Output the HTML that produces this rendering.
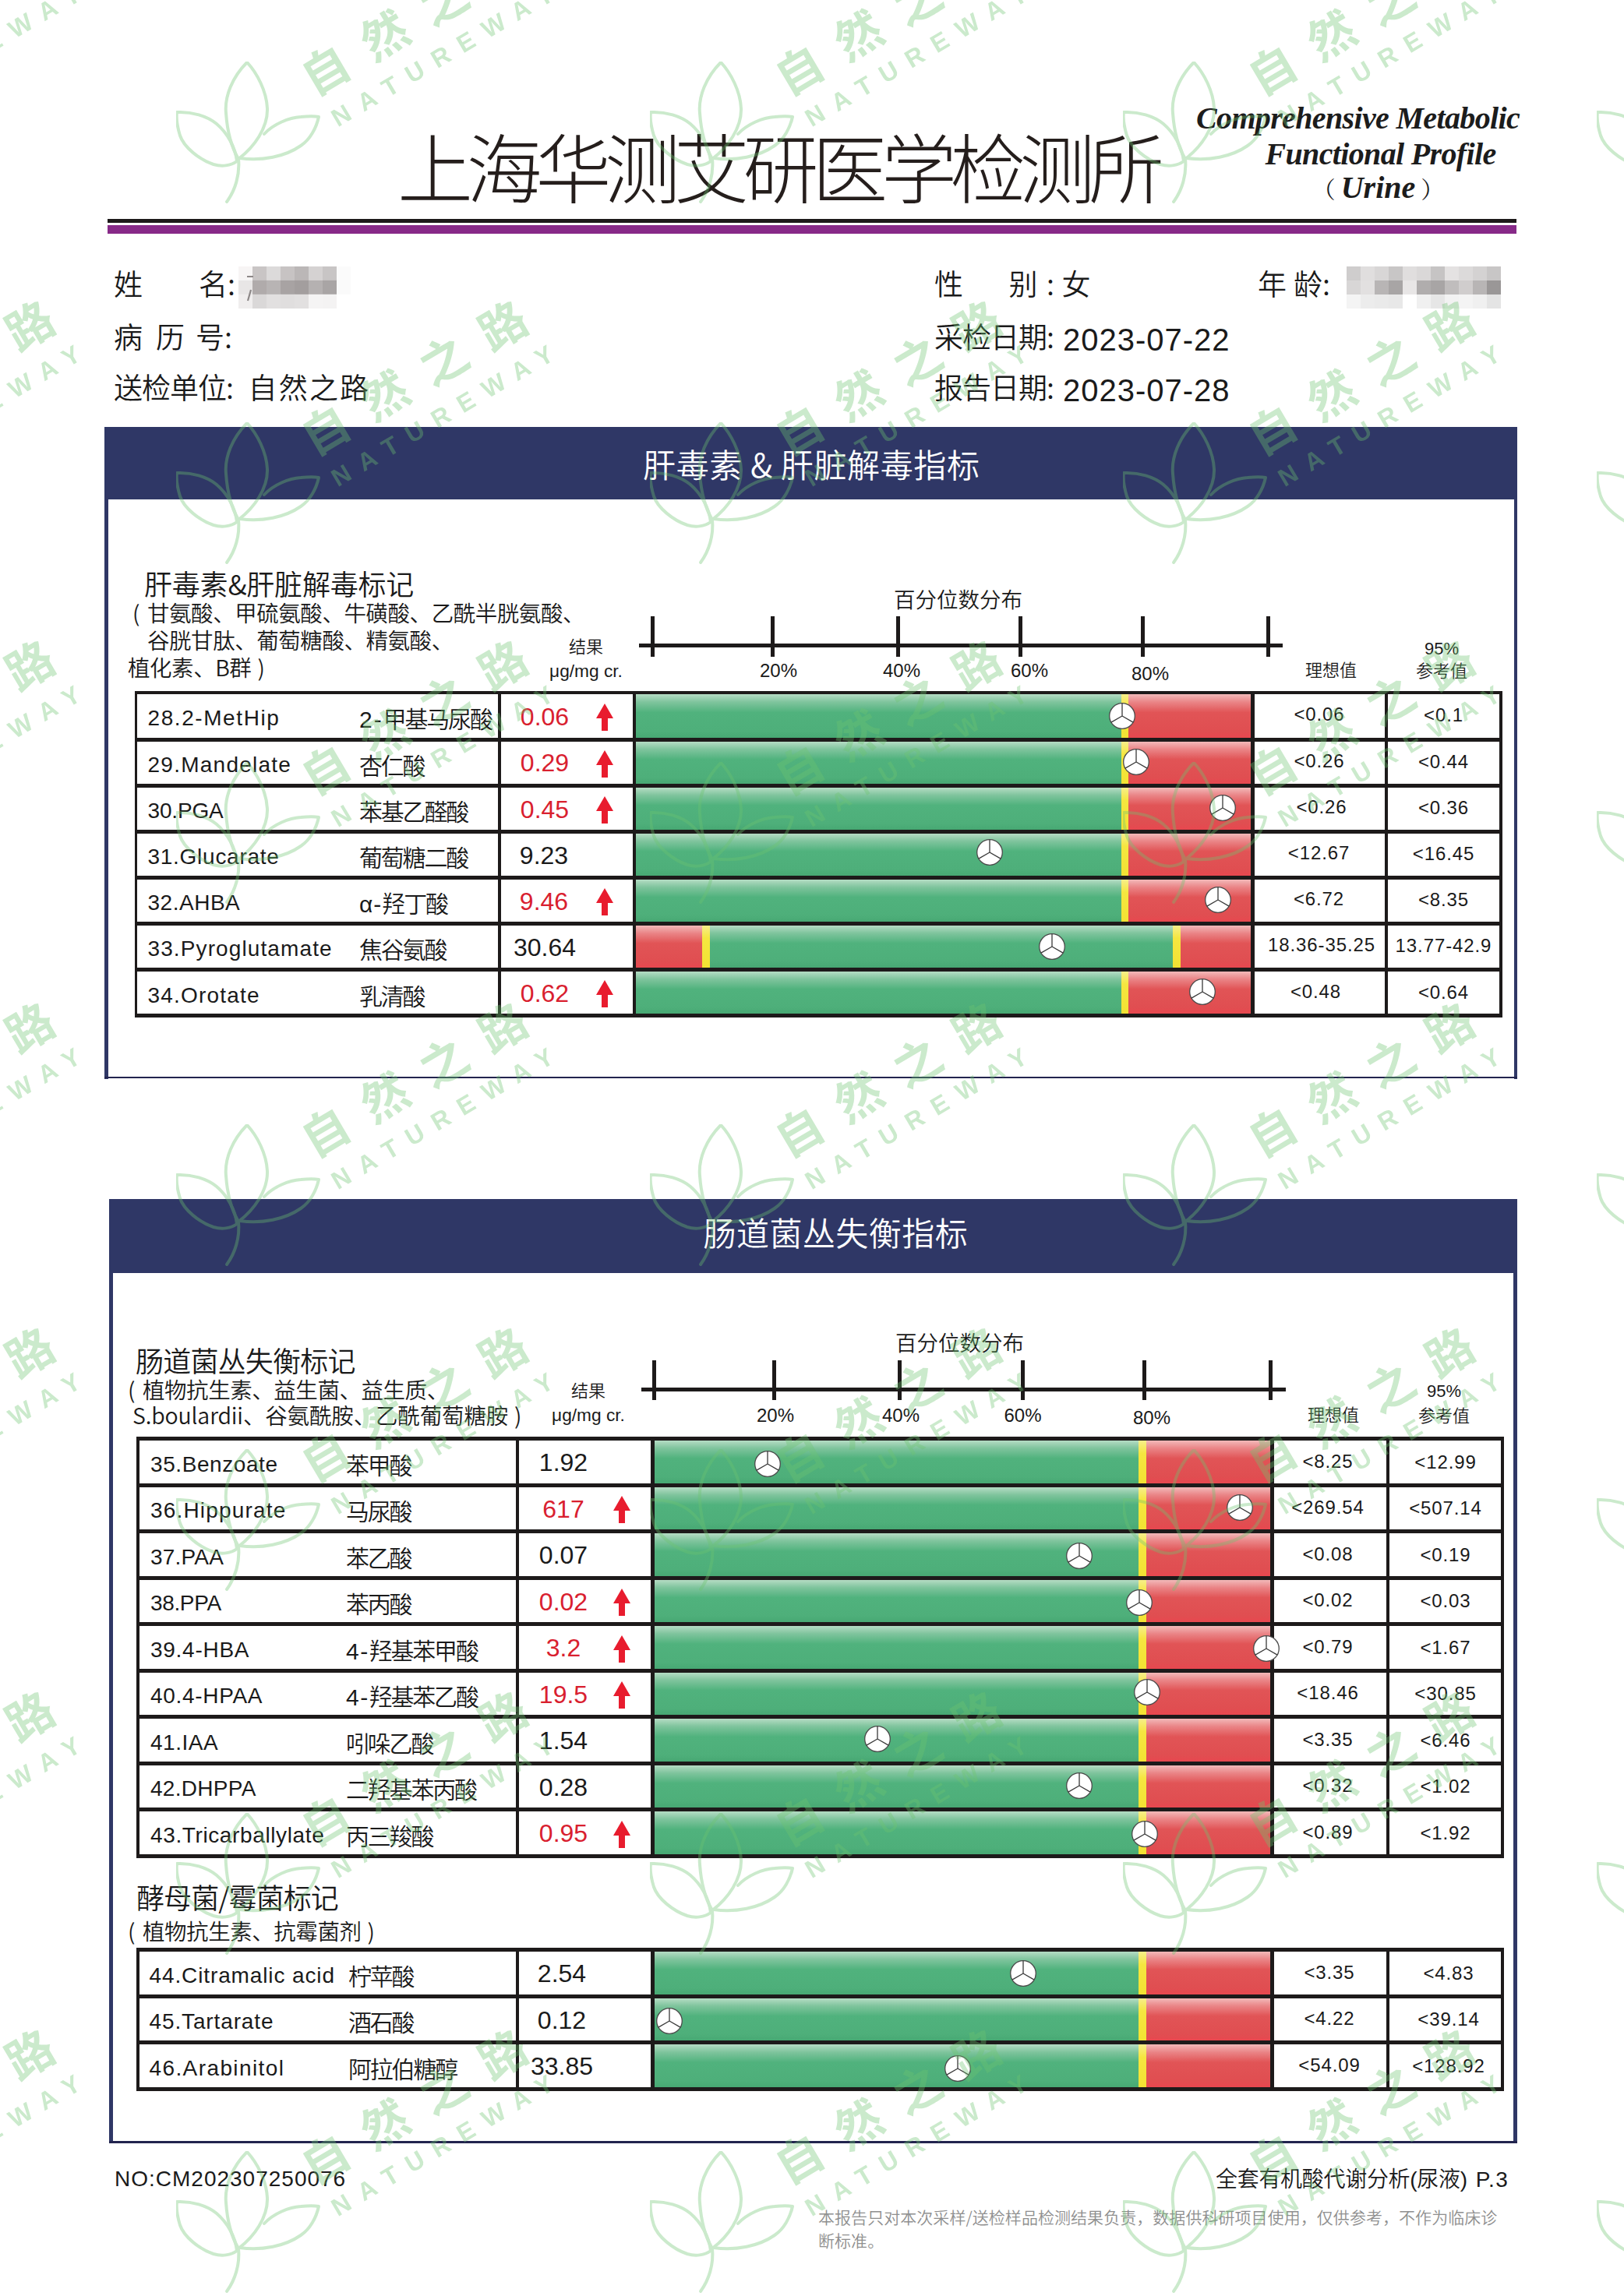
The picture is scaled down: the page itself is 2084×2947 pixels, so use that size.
<!DOCTYPE html>
<html lang="zh-CN"><head><meta charset="utf-8"><title>上海华测艾研医学检测所</title>
<style>
html,body{margin:0;padding:0;background:#fff;}
body{width:2084px;height:2947px;position:relative;overflow:hidden;font-family:"Noto Sans CJK SC","Liberation Sans",sans-serif;color:#1a1a1a;}
.a{position:absolute;white-space:nowrap;}
.t{position:absolute;white-space:nowrap;font-weight:350;}
.lat{font-family:"Liberation Sans","Noto Sans CJK SC",sans-serif;}
.bar{position:absolute;height:56px;}
.g{background:linear-gradient(to bottom,#b5dcc4 0%,#7fc49d 18%,#50b27d 42%,#4eaf7a 85%,#47a873 100%);}
.r{background:linear-gradient(to bottom,#f2b9b9 0%,#ea8587 18%,#e15456 42%,#e04e51 85%,#e8474f 100%);}
.y{background:linear-gradient(to bottom,#f7ee8a 0%,#f5e640 30%,#f2e233 100%);}
.cell{position:absolute;background:#fff;}
.tbl{position:absolute;background:#1d1a1a;}
.nm{position:absolute;white-space:nowrap;font-size:28px;line-height:40px;font-weight:350;}
.val{position:absolute;white-space:nowrap;font-family:'Liberation Sans',sans-serif;font-size:32px;line-height:40px;}
.red{color:#d9202f;}
.rv{position:absolute;white-space:nowrap;font-size:24px;line-height:34px;text-align:center;font-weight:350;letter-spacing:.9px;}
.wm{position:absolute;left:0;top:0;width:2084px;height:2947px;overflow:hidden;pointer-events:none;opacity:.36;}
.wm .u{position:absolute;width:520px;height:400px;}
.wm .c{position:absolute;white-space:nowrap;color:#6ec370;transform-origin:0 50%;transform:rotate(-30.5deg);}
</style></head><body>
<div class="t" style="left:510px;top:151.0px;font-size:97px;line-height:120px;color:#251e1c;letter-spacing:-8.3px;font-weight:300;">上海华测艾研医学检测所</div>
<div class="a" style="left:1535px;top:127.0px;font-size:40px;line-height:50px;font-family:'Liberation Serif',serif;font-style:italic;font-weight:700;color:#1c1c1c;width:413px;text-align:center;letter-spacing:-0.65px;">Comprehensive Metabolic</div>
<div class="a" style="left:1535px;top:173.0px;font-size:40px;line-height:50px;font-family:'Liberation Serif',serif;font-style:italic;font-weight:700;color:#1c1c1c;width:413px;text-align:center;left:1565px;letter-spacing:-0.65px;">Functional Profile</div>
<div class="a" style="left:1535px;top:216.0px;font-size:40px;line-height:50px;font-family:'Liberation Serif',serif;font-style:italic;font-weight:700;color:#1c1c1c;width:413px;text-align:center;left:1562px;"><span style="font-family:'Noto Serif CJK SC',serif;font-style:normal;font-weight:400;font-size:30px;margin-right:7px">（</span>Urine<span style="font-family:'Noto Serif CJK SC',serif;font-style:normal;font-weight:400;font-size:30px;margin-left:7px">）</span></div>
<div class="a" style="left:137.5px;top:281.1px;width:1808.5px;height:4.6px;background:#1d1a1a"></div>
<div class="a" style="left:137.5px;top:288.8px;width:1808.5px;height:11.7px;background:#872a88"></div>
<div class="t" style="left:146px;top:338.0px;font-size:37px;line-height:50px;">姓<span style="display:inline-block;width:72px"></span>名:</div>
<div class="t" style="left:146px;top:406.0px;font-size:37px;line-height:50px;">病<span style="display:inline-block;width:17px"></span>历<span style="display:inline-block;width:14px"></span>号:</div>
<div class="t" style="left:146px;top:471.0px;font-size:37px;line-height:50px;letter-spacing:-1px;">送检单位:</div>
<div class="t" style="left:318.5px;top:471.0px;font-size:37px;line-height:50px;letter-spacing:2.2px;">自然之路</div>
<div class="t" style="left:1199px;top:338.0px;font-size:37px;line-height:50px;">性<span style="display:inline-block;width:58.5px"></span>别<span style="display:inline-block;width:11.5px"></span>:<span style="display:inline-block;width:9.5px"></span>女</div>
<div class="t" style="left:1199px;top:406.0px;font-size:37px;line-height:50px;letter-spacing:-1px;">采检日期:</div>
<div class="t" style="left:1199px;top:471.0px;font-size:37px;line-height:50px;letter-spacing:-1px;">报告日期:</div>
<div class="t" style="left:1364px;top:411.0px;font-size:40px;line-height:50px;font-family:'Liberation Sans',sans-serif;font-weight:400;letter-spacing:1px;">2023-07-22</div>
<div class="t" style="left:1364px;top:476.0px;font-size:40px;line-height:50px;font-family:'Liberation Sans',sans-serif;font-weight:400;letter-spacing:1px;">2023-07-28</div>
<div class="t" style="left:1614px;top:338.0px;font-size:37px;line-height:50px;">年<span style="display:inline-block;width:9px"></span>龄:</div>
<svg class="a" style="left:306px;top:342px" width="144" height="53.699999999999996"><rect x="0" y="0.0" width="18.5" height="18.4" fill="#f7f5f5"/><rect x="18" y="0.0" width="18.5" height="18.4" fill="#c9c5c5"/><rect x="36" y="0.0" width="18.5" height="18.4" fill="#dcdada"/><rect x="54" y="0.0" width="18.5" height="18.4" fill="#c7c3c3"/><rect x="72" y="0.0" width="18.5" height="18.4" fill="#bbb7b7"/><rect x="90" y="0.0" width="18.5" height="18.4" fill="#d5d2d2"/><rect x="108" y="0.0" width="18.5" height="18.4" fill="#c8c5c5"/><rect x="126" y="0.0" width="18.5" height="18.4" fill="#fbfbfb"/><rect x="0" y="17.9" width="18.5" height="18.4" fill="#e8e6e6"/><rect x="18" y="17.9" width="18.5" height="18.4" fill="#b0abab"/><rect x="36" y="17.9" width="18.5" height="18.4" fill="#b8b4b4"/><rect x="54" y="17.9" width="18.5" height="18.4" fill="#a8a3a3"/><rect x="72" y="17.9" width="18.5" height="18.4" fill="#a39e9e"/><rect x="90" y="17.9" width="18.5" height="18.4" fill="#b5b1b1"/><rect x="108" y="17.9" width="18.5" height="18.4" fill="#a9a5a5"/><rect x="126" y="17.9" width="18.5" height="18.4" fill="#fafafa"/><rect x="0" y="35.8" width="18.5" height="18.4" fill="#f0eeee"/><rect x="18" y="35.8" width="18.5" height="18.4" fill="#dad8d8"/><rect x="36" y="35.8" width="18.5" height="18.4" fill="#e2e0e0"/><rect x="54" y="35.8" width="18.5" height="18.4" fill="#e0dede"/><rect x="72" y="35.8" width="18.5" height="18.4" fill="#e2e0e0"/><rect x="90" y="35.8" width="18.5" height="18.4" fill="#f5f4f4"/><rect x="108" y="35.8" width="18.5" height="18.4" fill="#f4f3f3"/><rect x="126" y="35.8" width="18.5" height="18.4" fill="#ffffff"/><path d="M11 13h8M16 30l-4 14" stroke="#8d8888" stroke-width="2.2" fill="none"/></svg>
<svg class="a" style="left:1728px;top:342px" width="198" height="54"><rect x="0" y="0" width="18.5" height="18.5" fill="#cfcdcd"/><rect x="18" y="0" width="18.5" height="18.5" fill="#e0dede"/><rect x="36" y="0" width="18.5" height="18.5" fill="#d8d6d6"/><rect x="54" y="0" width="18.5" height="18.5" fill="#c8c6c6"/><rect x="72" y="0" width="18.5" height="18.5" fill="#e0dede"/><rect x="90" y="0" width="18.5" height="18.5" fill="#dad8d8"/><rect x="108" y="0" width="18.5" height="18.5" fill="#c6c4c4"/><rect x="126" y="0" width="18.5" height="18.5" fill="#e4e2e2"/><rect x="144" y="0" width="18.5" height="18.5" fill="#dcdada"/><rect x="162" y="0" width="18.5" height="18.5" fill="#d4d2d2"/><rect x="180" y="0" width="18.5" height="18.5" fill="#c8c6c6"/><rect x="0" y="18" width="18.5" height="18.5" fill="#d8d6d6"/><rect x="18" y="18" width="18.5" height="18.5" fill="#e2e0e0"/><rect x="36" y="18" width="18.5" height="18.5" fill="#b8b5b5"/><rect x="54" y="18" width="18.5" height="18.5" fill="#a8a5a5"/><rect x="72" y="18" width="18.5" height="18.5" fill="#e8e6e6"/><rect x="90" y="18" width="18.5" height="18.5" fill="#b0adad"/><rect x="108" y="18" width="18.5" height="18.5" fill="#a8a5a5"/><rect x="126" y="18" width="18.5" height="18.5" fill="#c0bdbd"/><rect x="144" y="18" width="18.5" height="18.5" fill="#d0cdcd"/><rect x="162" y="18" width="18.5" height="18.5" fill="#b8b5b5"/><rect x="180" y="18" width="18.5" height="18.5" fill="#9a9797"/><rect x="0" y="36" width="18.5" height="18.5" fill="#f4f4f4"/><rect x="18" y="36" width="18.5" height="18.5" fill="#ececec"/><rect x="36" y="36" width="18.5" height="18.5" fill="#eaeaea"/><rect x="54" y="36" width="18.5" height="18.5" fill="#e8e8e8"/><rect x="72" y="36" width="18.5" height="18.5" fill="#ffffff"/><rect x="90" y="36" width="18.5" height="18.5" fill="#f0f0f0"/><rect x="108" y="36" width="18.5" height="18.5" fill="#e6e6e6"/><rect x="126" y="36" width="18.5" height="18.5" fill="#f2f2f2"/><rect x="144" y="36" width="18.5" height="18.5" fill="#f4f4f4"/><rect x="162" y="36" width="18.5" height="18.5" fill="#f0f0f0"/><rect x="180" y="36" width="18.5" height="18.5" fill="#e4e4e4"/></svg>
<div class="a" style="left:134px;top:548.3px;width:1812.7px;height:92.70000000000005px;background:#2f3766"></div>
<div class="a" style="left:134px;top:640px;width:4.5px;height:744.5px;background:#2f3766"></div>
<div class="a" style="left:1943.2px;top:640px;width:3.5px;height:744.5px;background:#2f3766"></div>
<div class="a" style="left:134px;top:1382.1px;width:1812.7px;height:2.4px;background:#22244e"></div>
<div class="t" style="left:825px;top:567.3px;font-size:42px;line-height:56px;color:#fff;letter-spacing:0.65px;">肝毒素 &amp; 肝脏解毒指标</div>
<div class="a" style="left:140px;top:1539px;width:1806.7px;height:95px;background:#2f3766"></div>
<div class="a" style="left:140px;top:1633px;width:5px;height:1118.4px;background:#2f3766"></div>
<div class="a" style="left:1941.9px;top:1633px;width:4.8px;height:1118.4px;background:#2f3766"></div>
<div class="a" style="left:140px;top:2747.7000000000003px;width:1806.7px;height:3.7px;background:#22244e"></div>
<div class="t" style="left:902.5px;top:1552.5px;font-size:42px;line-height:56px;color:#fff;letter-spacing:0.45px;">肠道菌丛失衡指标</div>
<div class="a" style="left:820px;top:826.1999999999999px;width:825.7px;height:5.2px;background:#1d1a1a"></div>
<div class="a" style="left:835.2px;top:791.3px;width:5px;height:51.30000000000007px;background:#1d1a1a"></div>
<div class="a" style="left:989.1px;top:791.3px;width:5px;height:51.30000000000007px;background:#1d1a1a"></div>
<div class="a" style="left:1149.7px;top:791.3px;width:5px;height:51.30000000000007px;background:#1d1a1a"></div>
<div class="a" style="left:1306.5px;top:791.3px;width:5px;height:51.30000000000007px;background:#1d1a1a"></div>
<div class="a" style="left:1464.0px;top:791.3px;width:5px;height:51.30000000000007px;background:#1d1a1a"></div>
<div class="a" style="left:1625.2px;top:791.3px;width:5px;height:51.30000000000007px;background:#1d1a1a"></div>
<div class="t lat" style="left:959px;top:845.0px;font-size:24px;line-height:32px;width:80px;text-align:center;">20%</div>
<div class="t lat" style="left:1117px;top:845.0px;font-size:24px;line-height:32px;width:80px;text-align:center;">40%</div>
<div class="t lat" style="left:1281px;top:845.0px;font-size:24px;line-height:32px;width:80px;text-align:center;">60%</div>
<div class="t lat" style="left:1436px;top:849.0px;font-size:24px;line-height:32px;width:80px;text-align:center;">80%</div>
<div class="t" style="left:1147px;top:748.5px;font-size:27.5px;line-height:38px;">百分位数分布</div>
<div class="a" style="left:823px;top:1781.3000000000002px;width:826.5px;height:5.2px;background:#1d1a1a"></div>
<div class="a" style="left:837.3px;top:1746.3px;width:5px;height:50.700000000000045px;background:#1d1a1a"></div>
<div class="a" style="left:990.7px;top:1746.3px;width:5px;height:50.700000000000045px;background:#1d1a1a"></div>
<div class="a" style="left:1152.4px;top:1746.3px;width:5px;height:50.700000000000045px;background:#1d1a1a"></div>
<div class="a" style="left:1310.0px;top:1746.3px;width:5px;height:50.700000000000045px;background:#1d1a1a"></div>
<div class="a" style="left:1465.9px;top:1746.3px;width:5px;height:50.700000000000045px;background:#1d1a1a"></div>
<div class="a" style="left:1627.7px;top:1746.3px;width:5px;height:50.700000000000045px;background:#1d1a1a"></div>
<div class="t lat" style="left:955px;top:1801.0px;font-size:24px;line-height:32px;width:80px;text-align:center;">20%</div>
<div class="t lat" style="left:1116px;top:1801.0px;font-size:24px;line-height:32px;width:80px;text-align:center;">40%</div>
<div class="t lat" style="left:1272.5px;top:1801.0px;font-size:24px;line-height:32px;width:80px;text-align:center;">60%</div>
<div class="t lat" style="left:1438px;top:1804.0px;font-size:24px;line-height:32px;width:80px;text-align:center;">80%</div>
<div class="t" style="left:1149px;top:1702.5px;font-size:27.5px;line-height:38px;">百分位数分布</div>
<div class="t" style="left:652px;top:812.5px;font-size:22px;line-height:30px;width:200px;text-align:center;">结果</div>
<div class="a" style="left:652px;top:846.0px;font-size:22.7px;line-height:30px;width:200px;text-align:center;font-family:'Liberation Sans',sans-serif;">μg/mg cr.</div>
<div class="t" style="left:1608px;top:842.5px;font-size:22px;line-height:30px;width:200px;text-align:center;">理想值</div>
<div class="t lat" style="left:1750px;top:818.0px;font-size:22px;line-height:30px;width:200px;text-align:center;">95%</div>
<div class="t" style="left:1750px;top:843.5px;font-size:22px;line-height:30px;width:200px;text-align:center;">参考值</div>
<div class="t" style="left:655px;top:1767.5px;font-size:22px;line-height:30px;width:200px;text-align:center;">结果</div>
<div class="a" style="left:655px;top:1801.0px;font-size:22.7px;line-height:30px;width:200px;text-align:center;font-family:'Liberation Sans',sans-serif;">μg/mg cr.</div>
<div class="t" style="left:1611px;top:1798.5px;font-size:22px;line-height:30px;width:200px;text-align:center;">理想值</div>
<div class="t lat" style="left:1753px;top:1771.0px;font-size:22px;line-height:30px;width:200px;text-align:center;">95%</div>
<div class="t" style="left:1753px;top:1799.5px;font-size:22px;line-height:30px;width:200px;text-align:center;">参考值</div>
<div class="t" style="left:185px;top:725.0px;font-size:36px;line-height:46px;letter-spacing:-0.2px">肝毒素&amp;肝脏解毒标记</div>
<div class="t" style="left:170px;top:766.5px;font-size:28.5px;line-height:38px;letter-spacing:-0.45px;">(<span style="display:inline-block;width:10px"></span>甘氨酸、甲硫氨酸、牛磺酸、乙酰半胱氨酸、</div>
<div class="t" style="left:189px;top:801.5px;font-size:28.5px;line-height:38px;letter-spacing:-0.45px;">谷胱甘肽、葡萄糖酸、精氨酸、</div>
<div class="t" style="left:164px;top:836.5px;font-size:28.5px;line-height:38px;letter-spacing:-0.45px;">植化素、B群<span style="display:inline-block;width:8px"></span>)</div>
<div class="t" style="left:174px;top:1722.0px;font-size:36px;line-height:46px;letter-spacing:-0.8px">肠道菌丛失衡标记</div>
<div class="t" style="left:164px;top:1763.5px;font-size:28.5px;line-height:38px;letter-spacing:-0.45px;">(<span style="display:inline-block;width:10px"></span>植物抗生素、益生菌、益生质、</div>
<div class="t" style="left:170px;top:1796.5px;font-size:28.5px;line-height:38px;letter-spacing:-0.15px;">S.boulardii、谷氨酰胺、乙酰葡萄糖胺<span style="display:inline-block;width:8px"></span>)</div>
<div class="t" style="left:175px;top:2411.0px;font-size:36px;line-height:46px;letter-spacing:-0.9px">酵母菌/霉菌标记</div>
<div class="t" style="left:164px;top:2458.5px;font-size:28.5px;line-height:38px;letter-spacing:-0.45px;">(<span style="display:inline-block;width:10px"></span>植物抗生素、抗霉菌剂<span style="display:inline-block;width:8px"></span>)</div>
<div class="tbl" style="left:173px;top:887.3px;width:1755px;height:418.7px"></div>
<div class="cell" style="left:176px;top:891.0px;width:463px;height:55.5px"></div>
<div class="cell" style="left:642.8px;top:891.0px;width:169.20000000000005px;height:55.5px"></div>
<div class="cell" style="left:1610px;top:891.0px;width:167px;height:55.5px"></div>
<div class="cell" style="left:1781px;top:891.0px;width:143px;height:55.5px"></div>
<div class="bar g" style="left:816px;top:891.0px;width:623px;height:55.5px"></div>
<div class="bar y" style="left:1439px;top:891.0px;width:9px;height:55.5px"></div>
<div class="bar r" style="left:1448px;top:891.0px;width:157px;height:55.5px"></div>
<div class="nm lat" style="left:189.5px;top:902.1px;letter-spacing:1.58px">28.2-MetHip</div>
<div class="nm lat" style="left:461px;top:904.1px;font-size:30px;letter-spacing:-2.2px"><span style="letter-spacing:2px">2-</span>甲基马尿酸</div>
<div class="val red" style="left:639px;width:120px;text-align:center;top:899.6px">0.06</div>
<svg class="a" style="left:763.9px;top:902.8px" width="24" height="36" viewBox="0 0 24 36"><path d="M12 0L23 19H16V35H8V19H1Z" fill="#e81c2e"/></svg>
<div class="rv lat" style="left:1613px;width:160px;top:900.1px">&lt;0.06</div>
<div class="rv lat" style="left:1772.5px;width:160px;top:901.1px">&lt;0.1</div>
<div class="cell" style="left:176px;top:951.5px;width:463px;height:54.0px"></div>
<div class="cell" style="left:642.8px;top:951.5px;width:169.20000000000005px;height:54.0px"></div>
<div class="cell" style="left:1610px;top:951.5px;width:167px;height:54.0px"></div>
<div class="cell" style="left:1781px;top:951.5px;width:143px;height:54.0px"></div>
<div class="bar g" style="left:816px;top:951.5px;width:623px;height:54.0px"></div>
<div class="bar y" style="left:1439px;top:951.5px;width:9px;height:54.0px"></div>
<div class="bar r" style="left:1448px;top:951.5px;width:157px;height:54.0px"></div>
<div class="nm lat" style="left:189.5px;top:961.9px;letter-spacing:1.25px">29.Mandelate</div>
<div class="nm lat" style="left:461px;top:963.9px;font-size:30px;letter-spacing:-2.2px">杏仁酸</div>
<div class="val red" style="left:639px;width:120px;text-align:center;top:959.4px">0.29</div>
<svg class="a" style="left:763.9px;top:962.6px" width="24" height="36" viewBox="0 0 24 36"><path d="M12 0L23 19H16V35H8V19H1Z" fill="#e81c2e"/></svg>
<div class="rv lat" style="left:1613px;width:160px;top:959.9px">&lt;0.26</div>
<div class="rv lat" style="left:1772.5px;width:160px;top:960.9px">&lt;0.44</div>
<div class="cell" style="left:176px;top:1010.5px;width:463px;height:54.0px"></div>
<div class="cell" style="left:642.8px;top:1010.5px;width:169.20000000000005px;height:54.0px"></div>
<div class="cell" style="left:1610px;top:1010.5px;width:167px;height:54.0px"></div>
<div class="cell" style="left:1781px;top:1010.5px;width:143px;height:54.0px"></div>
<div class="bar g" style="left:816px;top:1010.5px;width:623px;height:54.0px"></div>
<div class="bar y" style="left:1439px;top:1010.5px;width:9px;height:54.0px"></div>
<div class="bar r" style="left:1448px;top:1010.5px;width:157px;height:54.0px"></div>
<div class="nm lat" style="left:189.5px;top:1021.0px;letter-spacing:-0.18px">30.PGA</div>
<div class="nm lat" style="left:461px;top:1023.0px;font-size:30px;letter-spacing:-2.2px">苯基乙醛酸</div>
<div class="val red" style="left:639px;width:120px;text-align:center;top:1018.5px">0.45</div>
<svg class="a" style="left:763.9px;top:1021.8px" width="24" height="36" viewBox="0 0 24 36"><path d="M12 0L23 19H16V35H8V19H1Z" fill="#e81c2e"/></svg>
<div class="rv lat" style="left:1616px;width:160px;top:1019.0px">&lt;0.26</div>
<div class="rv lat" style="left:1772.5px;width:160px;top:1020.0px">&lt;0.36</div>
<div class="cell" style="left:176px;top:1069.5px;width:463px;height:54.0px"></div>
<div class="cell" style="left:642.8px;top:1069.5px;width:169.20000000000005px;height:54.0px"></div>
<div class="cell" style="left:1610px;top:1069.5px;width:167px;height:54.0px"></div>
<div class="cell" style="left:1781px;top:1069.5px;width:143px;height:54.0px"></div>
<div class="bar g" style="left:816px;top:1069.5px;width:623px;height:54.0px"></div>
<div class="bar y" style="left:1439px;top:1069.5px;width:9px;height:54.0px"></div>
<div class="bar r" style="left:1448px;top:1069.5px;width:157px;height:54.0px"></div>
<div class="nm lat" style="left:189.5px;top:1080.2px;letter-spacing:0.73px">31.Glucarate</div>
<div class="nm lat" style="left:461px;top:1082.2px;font-size:30px;letter-spacing:-2.2px">葡萄糖二酸</div>
<div class="val" style="left:638px;width:120px;text-align:center;top:1077.7px">9.23</div>
<div class="rv lat" style="left:1612.5px;width:160px;top:1078.2px">&lt;12.67</div>
<div class="rv lat" style="left:1772.5px;width:160px;top:1079.2px">&lt;16.45</div>
<div class="cell" style="left:176px;top:1128.5px;width:463px;height:54.0px"></div>
<div class="cell" style="left:642.8px;top:1128.5px;width:169.20000000000005px;height:54.0px"></div>
<div class="cell" style="left:1610px;top:1128.5px;width:167px;height:54.0px"></div>
<div class="cell" style="left:1781px;top:1128.5px;width:143px;height:54.0px"></div>
<div class="bar g" style="left:816px;top:1128.5px;width:623px;height:54.0px"></div>
<div class="bar y" style="left:1439px;top:1128.5px;width:9px;height:54.0px"></div>
<div class="bar r" style="left:1448px;top:1128.5px;width:157px;height:54.0px"></div>
<div class="nm lat" style="left:189.5px;top:1139.3px;letter-spacing:0.52px">32.AHBA</div>
<div class="nm lat" style="left:461px;top:1141.3px;font-size:30px;letter-spacing:-2.2px"><span style="letter-spacing:1px">α-</span>羟丁酸</div>
<div class="val red" style="left:638px;width:120px;text-align:center;top:1136.8px">9.46</div>
<svg class="a" style="left:763.9px;top:1140.0px" width="24" height="36" viewBox="0 0 24 36"><path d="M12 0L23 19H16V35H8V19H1Z" fill="#e81c2e"/></svg>
<div class="rv lat" style="left:1612.5px;width:160px;top:1137.3px">&lt;6.72</div>
<div class="rv lat" style="left:1772.5px;width:160px;top:1138.3px">&lt;8.35</div>
<div class="cell" style="left:176px;top:1188.0px;width:463px;height:54.0px"></div>
<div class="cell" style="left:642.8px;top:1188.0px;width:169.20000000000005px;height:54.0px"></div>
<div class="cell" style="left:1610px;top:1188.0px;width:167px;height:54.0px"></div>
<div class="cell" style="left:1781px;top:1188.0px;width:143px;height:54.0px"></div>
<div class="bar r" style="left:816px;top:1188.0px;width:85px;height:54.0px"></div>
<div class="bar y" style="left:901px;top:1188.0px;width:10px;height:54.0px"></div>
<div class="bar g" style="left:911px;top:1188.0px;width:594px;height:54.0px"></div>
<div class="bar y" style="left:1505px;top:1188.0px;width:10px;height:54.0px"></div>
<div class="bar r" style="left:1515px;top:1188.0px;width:90px;height:54.0px"></div>
<div class="nm lat" style="left:189.5px;top:1198.4px;letter-spacing:1.11px">33.Pyroglutamate</div>
<div class="nm lat" style="left:461px;top:1200.4px;font-size:30px;letter-spacing:-2.2px">焦谷氨酸</div>
<div class="val" style="left:639px;width:120px;text-align:center;top:1195.9px">30.64</div>
<div class="rv lat" style="left:1616px;width:160px;top:1196.4px">18.36-35.25</div>
<div class="rv lat" style="left:1772.5px;width:160px;top:1197.4px">13.77-42.9</div>
<div class="cell" style="left:176px;top:1247.0px;width:463px;height:54.0px"></div>
<div class="cell" style="left:642.8px;top:1247.0px;width:169.20000000000005px;height:54.0px"></div>
<div class="cell" style="left:1610px;top:1247.0px;width:167px;height:54.0px"></div>
<div class="cell" style="left:1781px;top:1247.0px;width:143px;height:54.0px"></div>
<div class="bar g" style="left:816px;top:1247.0px;width:623px;height:54.0px"></div>
<div class="bar y" style="left:1439px;top:1247.0px;width:9px;height:54.0px"></div>
<div class="bar r" style="left:1448px;top:1247.0px;width:157px;height:54.0px"></div>
<div class="nm lat" style="left:189.5px;top:1257.5px;letter-spacing:1.2px">34.Orotate</div>
<div class="nm lat" style="left:461px;top:1259.5px;font-size:30px;letter-spacing:-2.2px">乳清酸</div>
<div class="val red" style="left:639px;width:120px;text-align:center;top:1255.0px">0.62</div>
<svg class="a" style="left:763.9px;top:1258.2px" width="24" height="36" viewBox="0 0 24 36"><path d="M12 0L23 19H16V35H8V19H1Z" fill="#e81c2e"/></svg>
<div class="rv lat" style="left:1608.5px;width:160px;top:1255.5px">&lt;0.48</div>
<div class="rv lat" style="left:1772.5px;width:160px;top:1256.5px">&lt;0.64</div>
<svg class="a" style="left:1421.5px;top:900.5px" width="36" height="36" viewBox="-18 -18 36 36"><circle r="16.3" fill="#fff" stroke="#4a4a4a" stroke-width="1.3"/><path d="M0 0V-16.3M0 0L-14.1 8.15M0 0L14.1 8.15" stroke="#3a3a3a" stroke-width="1.3" fill="none"/></svg>
<svg class="a" style="left:1440px;top:960px" width="36" height="36" viewBox="-18 -18 36 36"><circle r="16.3" fill="#fff" stroke="#4a4a4a" stroke-width="1.3"/><path d="M0 0V-16.3M0 0L-14.1 8.15M0 0L14.1 8.15" stroke="#3a3a3a" stroke-width="1.3" fill="none"/></svg>
<svg class="a" style="left:1551px;top:1019px" width="36" height="36" viewBox="-18 -18 36 36"><circle r="16.3" fill="#fff" stroke="#4a4a4a" stroke-width="1.3"/><path d="M0 0V-16.3M0 0L-14.1 8.15M0 0L14.1 8.15" stroke="#3a3a3a" stroke-width="1.3" fill="none"/></svg>
<svg class="a" style="left:1252px;top:1076px" width="36" height="36" viewBox="-18 -18 36 36"><circle r="16.3" fill="#fff" stroke="#4a4a4a" stroke-width="1.3"/><path d="M0 0V-16.3M0 0L-14.1 8.15M0 0L14.1 8.15" stroke="#3a3a3a" stroke-width="1.3" fill="none"/></svg>
<svg class="a" style="left:1545px;top:1137px" width="36" height="36" viewBox="-18 -18 36 36"><circle r="16.3" fill="#fff" stroke="#4a4a4a" stroke-width="1.3"/><path d="M0 0V-16.3M0 0L-14.1 8.15M0 0L14.1 8.15" stroke="#3a3a3a" stroke-width="1.3" fill="none"/></svg>
<svg class="a" style="left:1332px;top:1197px" width="36" height="36" viewBox="-18 -18 36 36"><circle r="16.3" fill="#fff" stroke="#4a4a4a" stroke-width="1.3"/><path d="M0 0V-16.3M0 0L-14.1 8.15M0 0L14.1 8.15" stroke="#3a3a3a" stroke-width="1.3" fill="none"/></svg>
<svg class="a" style="left:1525px;top:1255px" width="36" height="36" viewBox="-18 -18 36 36"><circle r="16.3" fill="#fff" stroke="#4a4a4a" stroke-width="1.3"/><path d="M0 0V-16.3M0 0L-14.1 8.15M0 0L14.1 8.15" stroke="#3a3a3a" stroke-width="1.3" fill="none"/></svg>
<div class="tbl" style="left:175px;top:1844.2px;width:1755px;height:540.4px"></div>
<div class="cell" style="left:178.5px;top:1849.0px;width:483.5px;height:54.5px"></div>
<div class="cell" style="left:666px;top:1849.0px;width:169px;height:54.5px"></div>
<div class="cell" style="left:1635px;top:1849.0px;width:144px;height:54.5px"></div>
<div class="cell" style="left:1783px;top:1849.0px;width:143px;height:54.5px"></div>
<div class="bar g" style="left:839.5px;top:1849.0px;width:621.5px;height:54.5px"></div>
<div class="bar y" style="left:1461px;top:1849.0px;width:10px;height:54.5px"></div>
<div class="bar r" style="left:1471px;top:1849.0px;width:159px;height:54.5px"></div>
<div class="nm lat" style="left:193px;top:1859.9px;letter-spacing:0.58px">35.Benzoate</div>
<div class="nm lat" style="left:444px;top:1861.9px;font-size:30px;letter-spacing:-2.2px">苯甲酸</div>
<div class="val" style="left:663px;width:120px;text-align:center;top:1857.4px">1.92</div>
<div class="rv lat" style="left:1624px;width:160px;top:1858.9px">&lt;8.25</div>
<div class="rv lat" style="left:1775px;width:160px;top:1859.9px">&lt;12.99</div>
<div class="cell" style="left:178.5px;top:1908.5px;width:483.5px;height:54.5px"></div>
<div class="cell" style="left:666px;top:1908.5px;width:169px;height:54.5px"></div>
<div class="cell" style="left:1635px;top:1908.5px;width:144px;height:54.5px"></div>
<div class="cell" style="left:1783px;top:1908.5px;width:143px;height:54.5px"></div>
<div class="bar g" style="left:839.5px;top:1908.5px;width:621.5px;height:54.5px"></div>
<div class="bar y" style="left:1461px;top:1908.5px;width:10px;height:54.5px"></div>
<div class="bar r" style="left:1471px;top:1908.5px;width:159px;height:54.5px"></div>
<div class="nm lat" style="left:193px;top:1919.4px;letter-spacing:1.17px">36.Hippurate</div>
<div class="nm lat" style="left:444px;top:1921.4px;font-size:30px;letter-spacing:-2.2px">马尿酸</div>
<div class="val red" style="left:663px;width:120px;text-align:center;top:1916.9px">617</div>
<svg class="a" style="left:785.9px;top:1920.1px" width="24" height="36" viewBox="0 0 24 36"><path d="M12 0L23 19H16V35H8V19H1Z" fill="#e81c2e"/></svg>
<div class="rv lat" style="left:1624px;width:160px;top:1918.4px">&lt;269.54</div>
<div class="rv lat" style="left:1775px;width:160px;top:1919.4px">&lt;507.14</div>
<div class="cell" style="left:178.5px;top:1968.0px;width:483.5px;height:54.5px"></div>
<div class="cell" style="left:666px;top:1968.0px;width:169px;height:54.5px"></div>
<div class="cell" style="left:1635px;top:1968.0px;width:144px;height:54.5px"></div>
<div class="cell" style="left:1783px;top:1968.0px;width:143px;height:54.5px"></div>
<div class="bar g" style="left:839.5px;top:1968.0px;width:621.5px;height:54.5px"></div>
<div class="bar y" style="left:1461px;top:1968.0px;width:10px;height:54.5px"></div>
<div class="bar r" style="left:1471px;top:1968.0px;width:159px;height:54.5px"></div>
<div class="nm lat" style="left:193px;top:1978.9px;letter-spacing:0.2px">37.PAA</div>
<div class="nm lat" style="left:444px;top:1980.9px;font-size:30px;letter-spacing:-2.2px">苯乙酸</div>
<div class="val" style="left:663px;width:120px;text-align:center;top:1976.4px">0.07</div>
<div class="rv lat" style="left:1624px;width:160px;top:1977.9px">&lt;0.08</div>
<div class="rv lat" style="left:1775px;width:160px;top:1978.9px">&lt;0.19</div>
<div class="cell" style="left:178.5px;top:2027.5px;width:483.5px;height:54.5px"></div>
<div class="cell" style="left:666px;top:2027.5px;width:169px;height:54.5px"></div>
<div class="cell" style="left:1635px;top:2027.5px;width:144px;height:54.5px"></div>
<div class="cell" style="left:1783px;top:2027.5px;width:143px;height:54.5px"></div>
<div class="bar g" style="left:839.5px;top:2027.5px;width:621.5px;height:54.5px"></div>
<div class="bar y" style="left:1461px;top:2027.5px;width:10px;height:54.5px"></div>
<div class="bar r" style="left:1471px;top:2027.5px;width:159px;height:54.5px"></div>
<div class="nm lat" style="left:193px;top:2038.4px;letter-spacing:-0.36px">38.PPA</div>
<div class="nm lat" style="left:444px;top:2040.4px;font-size:30px;letter-spacing:-2.2px">苯丙酸</div>
<div class="val red" style="left:663px;width:120px;text-align:center;top:2035.9px">0.02</div>
<svg class="a" style="left:785.9px;top:2039.1px" width="24" height="36" viewBox="0 0 24 36"><path d="M12 0L23 19H16V35H8V19H1Z" fill="#e81c2e"/></svg>
<div class="rv lat" style="left:1624px;width:160px;top:2037.4px">&lt;0.02</div>
<div class="rv lat" style="left:1775px;width:160px;top:2038.4px">&lt;0.03</div>
<div class="cell" style="left:178.5px;top:2087.0px;width:483.5px;height:54.5px"></div>
<div class="cell" style="left:666px;top:2087.0px;width:169px;height:54.5px"></div>
<div class="cell" style="left:1635px;top:2087.0px;width:144px;height:54.5px"></div>
<div class="cell" style="left:1783px;top:2087.0px;width:143px;height:54.5px"></div>
<div class="bar g" style="left:839.5px;top:2087.0px;width:621.5px;height:54.5px"></div>
<div class="bar y" style="left:1461px;top:2087.0px;width:10px;height:54.5px"></div>
<div class="bar r" style="left:1471px;top:2087.0px;width:159px;height:54.5px"></div>
<div class="nm lat" style="left:193px;top:2097.9px;letter-spacing:0.73px">39.4-HBA</div>
<div class="nm lat" style="left:444px;top:2099.9px;font-size:30px;letter-spacing:-2.2px"><span style="letter-spacing:1.5px">4-</span>羟基苯甲酸</div>
<div class="val red" style="left:663px;width:120px;text-align:center;top:2095.4px">3.2</div>
<svg class="a" style="left:785.9px;top:2098.6px" width="24" height="36" viewBox="0 0 24 36"><path d="M12 0L23 19H16V35H8V19H1Z" fill="#e81c2e"/></svg>
<div class="rv lat" style="left:1624px;width:160px;top:2096.9px">&lt;0.79</div>
<div class="rv lat" style="left:1775px;width:160px;top:2097.9px">&lt;1.67</div>
<div class="cell" style="left:178.5px;top:2146.5px;width:483.5px;height:54.5px"></div>
<div class="cell" style="left:666px;top:2146.5px;width:169px;height:54.5px"></div>
<div class="cell" style="left:1635px;top:2146.5px;width:144px;height:54.5px"></div>
<div class="cell" style="left:1783px;top:2146.5px;width:143px;height:54.5px"></div>
<div class="bar g" style="left:839.5px;top:2146.5px;width:621.5px;height:54.5px"></div>
<div class="bar y" style="left:1461px;top:2146.5px;width:10px;height:54.5px"></div>
<div class="bar r" style="left:1471px;top:2146.5px;width:159px;height:54.5px"></div>
<div class="nm lat" style="left:193px;top:2157.4px;letter-spacing:0.69px">40.4-HPAA</div>
<div class="nm lat" style="left:444px;top:2159.4px;font-size:30px;letter-spacing:-2.2px"><span style="letter-spacing:1.5px">4-</span>羟基苯乙酸</div>
<div class="val red" style="left:663px;width:120px;text-align:center;top:2154.9px">19.5</div>
<svg class="a" style="left:785.9px;top:2158.1px" width="24" height="36" viewBox="0 0 24 36"><path d="M12 0L23 19H16V35H8V19H1Z" fill="#e81c2e"/></svg>
<div class="rv lat" style="left:1624px;width:160px;top:2156.4px">&lt;18.46</div>
<div class="rv lat" style="left:1775px;width:160px;top:2157.4px">&lt;30.85</div>
<div class="cell" style="left:178.5px;top:2206.0px;width:483.5px;height:54.5px"></div>
<div class="cell" style="left:666px;top:2206.0px;width:169px;height:54.5px"></div>
<div class="cell" style="left:1635px;top:2206.0px;width:144px;height:54.5px"></div>
<div class="cell" style="left:1783px;top:2206.0px;width:143px;height:54.5px"></div>
<div class="bar g" style="left:839.5px;top:2206.0px;width:621.5px;height:54.5px"></div>
<div class="bar y" style="left:1461px;top:2206.0px;width:10px;height:54.5px"></div>
<div class="bar r" style="left:1471px;top:2206.0px;width:159px;height:54.5px"></div>
<div class="nm lat" style="left:193px;top:2216.9px;letter-spacing:0.5px">41.IAA</div>
<div class="nm lat" style="left:444px;top:2218.9px;font-size:30px;letter-spacing:-2.2px">吲哚乙酸</div>
<div class="val" style="left:663px;width:120px;text-align:center;top:2214.4px">1.54</div>
<div class="rv lat" style="left:1624px;width:160px;top:2215.9px">&lt;3.35</div>
<div class="rv lat" style="left:1775px;width:160px;top:2216.9px">&lt;6.46</div>
<div class="cell" style="left:178.5px;top:2265.5px;width:483.5px;height:54.5px"></div>
<div class="cell" style="left:666px;top:2265.5px;width:169px;height:54.5px"></div>
<div class="cell" style="left:1635px;top:2265.5px;width:144px;height:54.5px"></div>
<div class="cell" style="left:1783px;top:2265.5px;width:143px;height:54.5px"></div>
<div class="bar g" style="left:839.5px;top:2265.5px;width:621.5px;height:54.5px"></div>
<div class="bar y" style="left:1461px;top:2265.5px;width:10px;height:54.5px"></div>
<div class="bar r" style="left:1471px;top:2265.5px;width:159px;height:54.5px"></div>
<div class="nm lat" style="left:193px;top:2276.4px;letter-spacing:0.3px">42.DHPPA</div>
<div class="nm lat" style="left:444px;top:2278.4px;font-size:30px;letter-spacing:-2.2px">二羟基苯丙酸</div>
<div class="val" style="left:663px;width:120px;text-align:center;top:2273.9px">0.28</div>
<div class="rv lat" style="left:1624px;width:160px;top:2275.4px">&lt;0.32</div>
<div class="rv lat" style="left:1775px;width:160px;top:2276.4px">&lt;1.02</div>
<div class="cell" style="left:178.5px;top:2325.0px;width:483.5px;height:54.5px"></div>
<div class="cell" style="left:666px;top:2325.0px;width:169px;height:54.5px"></div>
<div class="cell" style="left:1635px;top:2325.0px;width:144px;height:54.5px"></div>
<div class="cell" style="left:1783px;top:2325.0px;width:143px;height:54.5px"></div>
<div class="bar g" style="left:839.5px;top:2325.0px;width:621.5px;height:54.5px"></div>
<div class="bar y" style="left:1461px;top:2325.0px;width:10px;height:54.5px"></div>
<div class="bar r" style="left:1471px;top:2325.0px;width:159px;height:54.5px"></div>
<div class="nm lat" style="left:193px;top:2335.9px;letter-spacing:0.62px">43.Tricarballylate</div>
<div class="nm lat" style="left:444px;top:2337.9px;font-size:30px;letter-spacing:-2.2px">丙三羧酸</div>
<div class="val red" style="left:663px;width:120px;text-align:center;top:2333.4px">0.95</div>
<svg class="a" style="left:785.9px;top:2336.6px" width="24" height="36" viewBox="0 0 24 36"><path d="M12 0L23 19H16V35H8V19H1Z" fill="#e81c2e"/></svg>
<div class="rv lat" style="left:1624px;width:160px;top:2334.9px">&lt;0.89</div>
<div class="rv lat" style="left:1775px;width:160px;top:2335.9px">&lt;1.92</div>
<svg class="a" style="left:967px;top:1861px" width="36" height="36" viewBox="-18 -18 36 36"><circle r="16.3" fill="#fff" stroke="#4a4a4a" stroke-width="1.3"/><path d="M0 0V-16.3M0 0L-14.1 8.15M0 0L14.1 8.15" stroke="#3a3a3a" stroke-width="1.3" fill="none"/></svg>
<svg class="a" style="left:1572.7px;top:1917px" width="36" height="36" viewBox="-18 -18 36 36"><circle r="16.3" fill="#fff" stroke="#4a4a4a" stroke-width="1.3"/><path d="M0 0V-16.3M0 0L-14.1 8.15M0 0L14.1 8.15" stroke="#3a3a3a" stroke-width="1.3" fill="none"/></svg>
<svg class="a" style="left:1366.8px;top:1978.6px" width="36" height="36" viewBox="-18 -18 36 36"><circle r="16.3" fill="#fff" stroke="#4a4a4a" stroke-width="1.3"/><path d="M0 0V-16.3M0 0L-14.1 8.15M0 0L14.1 8.15" stroke="#3a3a3a" stroke-width="1.3" fill="none"/></svg>
<svg class="a" style="left:1444.4px;top:2038.6px" width="36" height="36" viewBox="-18 -18 36 36"><circle r="16.3" fill="#fff" stroke="#4a4a4a" stroke-width="1.3"/><path d="M0 0V-16.3M0 0L-14.1 8.15M0 0L14.1 8.15" stroke="#3a3a3a" stroke-width="1.3" fill="none"/></svg>
<svg class="a" style="left:1607.4px;top:2097.5px" width="36" height="36" viewBox="-18 -18 36 36"><circle r="16.3" fill="#fff" stroke="#4a4a4a" stroke-width="1.3"/><path d="M0 0V-16.3M0 0L-14.1 8.15M0 0L14.1 8.15" stroke="#3a3a3a" stroke-width="1.3" fill="none"/></svg>
<svg class="a" style="left:1453.7px;top:2154px" width="36" height="36" viewBox="-18 -18 36 36"><circle r="16.3" fill="#fff" stroke="#4a4a4a" stroke-width="1.3"/><path d="M0 0V-16.3M0 0L-14.1 8.15M0 0L14.1 8.15" stroke="#3a3a3a" stroke-width="1.3" fill="none"/></svg>
<svg class="a" style="left:1108.2px;top:2214.4px" width="36" height="36" viewBox="-18 -18 36 36"><circle r="16.3" fill="#fff" stroke="#4a4a4a" stroke-width="1.3"/><path d="M0 0V-16.3M0 0L-14.1 8.15M0 0L14.1 8.15" stroke="#3a3a3a" stroke-width="1.3" fill="none"/></svg>
<svg class="a" style="left:1366.8px;top:2274px" width="36" height="36" viewBox="-18 -18 36 36"><circle r="16.3" fill="#fff" stroke="#4a4a4a" stroke-width="1.3"/><path d="M0 0V-16.3M0 0L-14.1 8.15M0 0L14.1 8.15" stroke="#3a3a3a" stroke-width="1.3" fill="none"/></svg>
<svg class="a" style="left:1451.2px;top:2335.5px" width="36" height="36" viewBox="-18 -18 36 36"><circle r="16.3" fill="#fff" stroke="#4a4a4a" stroke-width="1.3"/><path d="M0 0V-16.3M0 0L-14.1 8.15M0 0L14.1 8.15" stroke="#3a3a3a" stroke-width="1.3" fill="none"/></svg>
<div class="tbl" style="left:175px;top:2500px;width:1755px;height:183.7px"></div>
<div class="cell" style="left:178.5px;top:2505.0px;width:483.5px;height:54.5px"></div>
<div class="cell" style="left:666px;top:2505.0px;width:169px;height:54.5px"></div>
<div class="cell" style="left:1635px;top:2505.0px;width:144px;height:54.5px"></div>
<div class="cell" style="left:1783px;top:2505.0px;width:143px;height:54.5px"></div>
<div class="bar g" style="left:839.5px;top:2505.0px;width:621.5px;height:54.5px"></div>
<div class="bar y" style="left:1461px;top:2505.0px;width:10px;height:54.5px"></div>
<div class="bar r" style="left:1471px;top:2505.0px;width:159px;height:54.5px"></div>
<div class="nm lat" style="left:191.5px;top:2515.8px;letter-spacing:0.88px">44.Citramalic acid</div>
<div class="nm lat" style="left:447px;top:2517.8px;font-size:30px;letter-spacing:-2.2px">柠苹酸</div>
<div class="val" style="left:661px;width:120px;text-align:center;top:2513.2px">2.54</div>
<div class="rv lat" style="left:1626px;width:160px;top:2514.8px">&lt;3.35</div>
<div class="rv lat" style="left:1779px;width:160px;top:2515.8px">&lt;4.83</div>
<div class="cell" style="left:178.5px;top:2564.5px;width:483.5px;height:54.5px"></div>
<div class="cell" style="left:666px;top:2564.5px;width:169px;height:54.5px"></div>
<div class="cell" style="left:1635px;top:2564.5px;width:144px;height:54.5px"></div>
<div class="cell" style="left:1783px;top:2564.5px;width:143px;height:54.5px"></div>
<div class="bar g" style="left:839.5px;top:2564.5px;width:621.5px;height:54.5px"></div>
<div class="bar y" style="left:1461px;top:2564.5px;width:10px;height:54.5px"></div>
<div class="bar r" style="left:1471px;top:2564.5px;width:159px;height:54.5px"></div>
<div class="nm lat" style="left:191.5px;top:2575.3px;letter-spacing:0.87px">45.Tartarate</div>
<div class="nm lat" style="left:447px;top:2577.3px;font-size:30px;letter-spacing:-2.2px">酒石酸</div>
<div class="val" style="left:661px;width:120px;text-align:center;top:2572.8px">0.12</div>
<div class="rv lat" style="left:1626px;width:160px;top:2574.3px">&lt;4.22</div>
<div class="rv lat" style="left:1779px;width:160px;top:2575.3px">&lt;39.14</div>
<div class="cell" style="left:178.5px;top:2624.0px;width:483.5px;height:54.5px"></div>
<div class="cell" style="left:666px;top:2624.0px;width:169px;height:54.5px"></div>
<div class="cell" style="left:1635px;top:2624.0px;width:144px;height:54.5px"></div>
<div class="cell" style="left:1783px;top:2624.0px;width:143px;height:54.5px"></div>
<div class="bar g" style="left:839.5px;top:2624.0px;width:621.5px;height:54.5px"></div>
<div class="bar y" style="left:1461px;top:2624.0px;width:10px;height:54.5px"></div>
<div class="bar r" style="left:1471px;top:2624.0px;width:159px;height:54.5px"></div>
<div class="nm lat" style="left:191.5px;top:2634.9px;letter-spacing:1.4px">46.Arabinitol</div>
<div class="nm lat" style="left:447px;top:2636.9px;font-size:30px;letter-spacing:-2.2px">阿拉伯糖醇</div>
<div class="val" style="left:661px;width:120px;text-align:center;top:2632.4px">33.85</div>
<div class="rv lat" style="left:1626px;width:160px;top:2633.9px">&lt;54.09</div>
<div class="rv lat" style="left:1779px;width:160px;top:2634.9px">&lt;128.92</div>
<svg class="a" style="left:1294.8px;top:2515.4px" width="36" height="36" viewBox="-18 -18 36 36"><circle r="16.3" fill="#fff" stroke="#4a4a4a" stroke-width="1.3"/><path d="M0 0V-16.3M0 0L-14.1 8.15M0 0L14.1 8.15" stroke="#3a3a3a" stroke-width="1.3" fill="none"/></svg>
<svg class="a" style="left:840.6px;top:2576.4px" width="36" height="36" viewBox="-18 -18 36 36"><circle r="16.3" fill="#fff" stroke="#4a4a4a" stroke-width="1.3"/><path d="M0 0V-16.3M0 0L-14.1 8.15M0 0L14.1 8.15" stroke="#3a3a3a" stroke-width="1.3" fill="none"/></svg>
<svg class="a" style="left:1211.2px;top:2636.8px" width="36" height="36" viewBox="-18 -18 36 36"><circle r="16.3" fill="#fff" stroke="#4a4a4a" stroke-width="1.3"/><path d="M0 0V-16.3M0 0L-14.1 8.15M0 0L14.1 8.15" stroke="#3a3a3a" stroke-width="1.3" fill="none"/></svg>
<div class="t lat" style="left:147px;top:2777.0px;font-size:28px;line-height:40px;letter-spacing:1.0px">NO:CM202307250076</div>
<div class="t lat" style="left:1560px;top:2778.0px;font-size:28px;line-height:40px;letter-spacing:-0.3px">全套有机酸代谢分析(尿液)<span style="margin-left:11px;letter-spacing:1.3px">P.3</span></div>
<div class="t" style="left:1050px;top:2829.5px;font-size:21px;line-height:30px;color:#8f8f8f;letter-spacing:0.05px">本报告只对本次采样/送检样品检测结果负责，数据供科研项目使用，仅供参考，不作为临床诊</div>
<div class="t" style="left:1050px;top:2859.5px;font-size:21px;line-height:30px;color:#8f8f8f;letter-spacing:0.05px">断标准。</div>
<div class="wm">
<div class="u" style="left:-381.6px;top:-375.6px"><svg class="a" style="left:0;top:0" width="200" height="190" viewBox="0 0 200 190"><g fill="none" stroke="#6ec370" stroke-width="4" stroke-linecap="round" stroke-linejoin="round"><path d="M91 1C72 20 62 45 64 66C66 95 74 115 80 125C100 110 118 85 117 60C116 38 104 15 91 1Z"/><path d="M1 65C20 64 40 70 52 80C66 92 76 110 78 128C70 134 58 135 48 132C30 126 10 110 5 95C2 85 0 72 1 65Z"/><path d="M113 93C125 80 145 72 160 71C170 70 178 70 183 71C180 85 172 100 160 108C140 122 110 128 82 124"/><path d="M80 125C82 145 76 165 65 180"/></g></svg><div class="c" style="left:164.2px;top:-7.8px;font-size:60px;line-height:60px;letter-spacing:28px;font-weight:700;">自然之路</div><div class="c" style="left:202.2px;top:58.6px;font-size:32px;line-height:32px;letter-spacing:15.4px;font-weight:700;font-family:'Liberation Sans',sans-serif;">NATUREWAY</div></div>
<div class="u" style="left:226.0px;top:-375.6px"><svg class="a" style="left:0;top:0" width="200" height="190" viewBox="0 0 200 190"><g fill="none" stroke="#6ec370" stroke-width="4" stroke-linecap="round" stroke-linejoin="round"><path d="M91 1C72 20 62 45 64 66C66 95 74 115 80 125C100 110 118 85 117 60C116 38 104 15 91 1Z"/><path d="M1 65C20 64 40 70 52 80C66 92 76 110 78 128C70 134 58 135 48 132C30 126 10 110 5 95C2 85 0 72 1 65Z"/><path d="M113 93C125 80 145 72 160 71C170 70 178 70 183 71C180 85 172 100 160 108C140 122 110 128 82 124"/><path d="M80 125C82 145 76 165 65 180"/></g></svg><div class="c" style="left:164.2px;top:-7.8px;font-size:60px;line-height:60px;letter-spacing:28px;font-weight:700;">自然之路</div><div class="c" style="left:202.2px;top:58.6px;font-size:32px;line-height:32px;letter-spacing:15.4px;font-weight:700;font-family:'Liberation Sans',sans-serif;">NATUREWAY</div></div>
<div class="u" style="left:833.6px;top:-375.6px"><svg class="a" style="left:0;top:0" width="200" height="190" viewBox="0 0 200 190"><g fill="none" stroke="#6ec370" stroke-width="4" stroke-linecap="round" stroke-linejoin="round"><path d="M91 1C72 20 62 45 64 66C66 95 74 115 80 125C100 110 118 85 117 60C116 38 104 15 91 1Z"/><path d="M1 65C20 64 40 70 52 80C66 92 76 110 78 128C70 134 58 135 48 132C30 126 10 110 5 95C2 85 0 72 1 65Z"/><path d="M113 93C125 80 145 72 160 71C170 70 178 70 183 71C180 85 172 100 160 108C140 122 110 128 82 124"/><path d="M80 125C82 145 76 165 65 180"/></g></svg><div class="c" style="left:164.2px;top:-7.8px;font-size:60px;line-height:60px;letter-spacing:28px;font-weight:700;">自然之路</div><div class="c" style="left:202.2px;top:58.6px;font-size:32px;line-height:32px;letter-spacing:15.4px;font-weight:700;font-family:'Liberation Sans',sans-serif;">NATUREWAY</div></div>
<div class="u" style="left:1441.2px;top:-375.6px"><svg class="a" style="left:0;top:0" width="200" height="190" viewBox="0 0 200 190"><g fill="none" stroke="#6ec370" stroke-width="4" stroke-linecap="round" stroke-linejoin="round"><path d="M91 1C72 20 62 45 64 66C66 95 74 115 80 125C100 110 118 85 117 60C116 38 104 15 91 1Z"/><path d="M1 65C20 64 40 70 52 80C66 92 76 110 78 128C70 134 58 135 48 132C30 126 10 110 5 95C2 85 0 72 1 65Z"/><path d="M113 93C125 80 145 72 160 71C170 70 178 70 183 71C180 85 172 100 160 108C140 122 110 128 82 124"/><path d="M80 125C82 145 76 165 65 180"/></g></svg><div class="c" style="left:164.2px;top:-7.8px;font-size:60px;line-height:60px;letter-spacing:28px;font-weight:700;">自然之路</div><div class="c" style="left:202.2px;top:58.6px;font-size:32px;line-height:32px;letter-spacing:15.4px;font-weight:700;font-family:'Liberation Sans',sans-serif;">NATUREWAY</div></div>
<div class="u" style="left:2048.8px;top:-375.6px"><svg class="a" style="left:0;top:0" width="200" height="190" viewBox="0 0 200 190"><g fill="none" stroke="#6ec370" stroke-width="4" stroke-linecap="round" stroke-linejoin="round"><path d="M91 1C72 20 62 45 64 66C66 95 74 115 80 125C100 110 118 85 117 60C116 38 104 15 91 1Z"/><path d="M1 65C20 64 40 70 52 80C66 92 76 110 78 128C70 134 58 135 48 132C30 126 10 110 5 95C2 85 0 72 1 65Z"/><path d="M113 93C125 80 145 72 160 71C170 70 178 70 183 71C180 85 172 100 160 108C140 122 110 128 82 124"/><path d="M80 125C82 145 76 165 65 180"/></g></svg><div class="c" style="left:164.2px;top:-7.8px;font-size:60px;line-height:60px;letter-spacing:28px;font-weight:700;">自然之路</div><div class="c" style="left:202.2px;top:58.6px;font-size:32px;line-height:32px;letter-spacing:15.4px;font-weight:700;font-family:'Liberation Sans',sans-serif;">NATUREWAY</div></div>
<div class="u" style="left:-381.6px;top:79.4px"><svg class="a" style="left:0;top:0" width="200" height="190" viewBox="0 0 200 190"><g fill="none" stroke="#6ec370" stroke-width="4" stroke-linecap="round" stroke-linejoin="round"><path d="M91 1C72 20 62 45 64 66C66 95 74 115 80 125C100 110 118 85 117 60C116 38 104 15 91 1Z"/><path d="M1 65C20 64 40 70 52 80C66 92 76 110 78 128C70 134 58 135 48 132C30 126 10 110 5 95C2 85 0 72 1 65Z"/><path d="M113 93C125 80 145 72 160 71C170 70 178 70 183 71C180 85 172 100 160 108C140 122 110 128 82 124"/><path d="M80 125C82 145 76 165 65 180"/></g></svg><div class="c" style="left:164.2px;top:-7.8px;font-size:60px;line-height:60px;letter-spacing:28px;font-weight:700;">自然之路</div><div class="c" style="left:202.2px;top:58.6px;font-size:32px;line-height:32px;letter-spacing:15.4px;font-weight:700;font-family:'Liberation Sans',sans-serif;">NATUREWAY</div></div>
<div class="u" style="left:226.0px;top:79.4px"><svg class="a" style="left:0;top:0" width="200" height="190" viewBox="0 0 200 190"><g fill="none" stroke="#6ec370" stroke-width="4" stroke-linecap="round" stroke-linejoin="round"><path d="M91 1C72 20 62 45 64 66C66 95 74 115 80 125C100 110 118 85 117 60C116 38 104 15 91 1Z"/><path d="M1 65C20 64 40 70 52 80C66 92 76 110 78 128C70 134 58 135 48 132C30 126 10 110 5 95C2 85 0 72 1 65Z"/><path d="M113 93C125 80 145 72 160 71C170 70 178 70 183 71C180 85 172 100 160 108C140 122 110 128 82 124"/><path d="M80 125C82 145 76 165 65 180"/></g></svg><div class="c" style="left:164.2px;top:-7.8px;font-size:60px;line-height:60px;letter-spacing:28px;font-weight:700;">自然之路</div><div class="c" style="left:202.2px;top:58.6px;font-size:32px;line-height:32px;letter-spacing:15.4px;font-weight:700;font-family:'Liberation Sans',sans-serif;">NATUREWAY</div></div>
<div class="u" style="left:833.6px;top:79.4px"><svg class="a" style="left:0;top:0" width="200" height="190" viewBox="0 0 200 190"><g fill="none" stroke="#6ec370" stroke-width="4" stroke-linecap="round" stroke-linejoin="round"><path d="M91 1C72 20 62 45 64 66C66 95 74 115 80 125C100 110 118 85 117 60C116 38 104 15 91 1Z"/><path d="M1 65C20 64 40 70 52 80C66 92 76 110 78 128C70 134 58 135 48 132C30 126 10 110 5 95C2 85 0 72 1 65Z"/><path d="M113 93C125 80 145 72 160 71C170 70 178 70 183 71C180 85 172 100 160 108C140 122 110 128 82 124"/><path d="M80 125C82 145 76 165 65 180"/></g></svg><div class="c" style="left:164.2px;top:-7.8px;font-size:60px;line-height:60px;letter-spacing:28px;font-weight:700;">自然之路</div><div class="c" style="left:202.2px;top:58.6px;font-size:32px;line-height:32px;letter-spacing:15.4px;font-weight:700;font-family:'Liberation Sans',sans-serif;">NATUREWAY</div></div>
<div class="u" style="left:1441.2px;top:79.4px"><svg class="a" style="left:0;top:0" width="200" height="190" viewBox="0 0 200 190"><g fill="none" stroke="#6ec370" stroke-width="4" stroke-linecap="round" stroke-linejoin="round"><path d="M91 1C72 20 62 45 64 66C66 95 74 115 80 125C100 110 118 85 117 60C116 38 104 15 91 1Z"/><path d="M1 65C20 64 40 70 52 80C66 92 76 110 78 128C70 134 58 135 48 132C30 126 10 110 5 95C2 85 0 72 1 65Z"/><path d="M113 93C125 80 145 72 160 71C170 70 178 70 183 71C180 85 172 100 160 108C140 122 110 128 82 124"/><path d="M80 125C82 145 76 165 65 180"/></g></svg><div class="c" style="left:164.2px;top:-7.8px;font-size:60px;line-height:60px;letter-spacing:28px;font-weight:700;">自然之路</div><div class="c" style="left:202.2px;top:58.6px;font-size:32px;line-height:32px;letter-spacing:15.4px;font-weight:700;font-family:'Liberation Sans',sans-serif;">NATUREWAY</div></div>
<div class="u" style="left:2048.8px;top:79.4px"><svg class="a" style="left:0;top:0" width="200" height="190" viewBox="0 0 200 190"><g fill="none" stroke="#6ec370" stroke-width="4" stroke-linecap="round" stroke-linejoin="round"><path d="M91 1C72 20 62 45 64 66C66 95 74 115 80 125C100 110 118 85 117 60C116 38 104 15 91 1Z"/><path d="M1 65C20 64 40 70 52 80C66 92 76 110 78 128C70 134 58 135 48 132C30 126 10 110 5 95C2 85 0 72 1 65Z"/><path d="M113 93C125 80 145 72 160 71C170 70 178 70 183 71C180 85 172 100 160 108C140 122 110 128 82 124"/><path d="M80 125C82 145 76 165 65 180"/></g></svg><div class="c" style="left:164.2px;top:-7.8px;font-size:60px;line-height:60px;letter-spacing:28px;font-weight:700;">自然之路</div><div class="c" style="left:202.2px;top:58.6px;font-size:32px;line-height:32px;letter-spacing:15.4px;font-weight:700;font-family:'Liberation Sans',sans-serif;">NATUREWAY</div></div>
<div class="u" style="left:-381.6px;top:541.9px"><svg class="a" style="left:0;top:0" width="200" height="190" viewBox="0 0 200 190"><g fill="none" stroke="#6ec370" stroke-width="4" stroke-linecap="round" stroke-linejoin="round"><path d="M91 1C72 20 62 45 64 66C66 95 74 115 80 125C100 110 118 85 117 60C116 38 104 15 91 1Z"/><path d="M1 65C20 64 40 70 52 80C66 92 76 110 78 128C70 134 58 135 48 132C30 126 10 110 5 95C2 85 0 72 1 65Z"/><path d="M113 93C125 80 145 72 160 71C170 70 178 70 183 71C180 85 172 100 160 108C140 122 110 128 82 124"/><path d="M80 125C82 145 76 165 65 180"/></g></svg><div class="c" style="left:164.2px;top:-7.8px;font-size:60px;line-height:60px;letter-spacing:28px;font-weight:700;">自然之路</div><div class="c" style="left:202.2px;top:58.6px;font-size:32px;line-height:32px;letter-spacing:15.4px;font-weight:700;font-family:'Liberation Sans',sans-serif;">NATUREWAY</div></div>
<div class="u" style="left:226.0px;top:541.9px"><svg class="a" style="left:0;top:0" width="200" height="190" viewBox="0 0 200 190"><g fill="none" stroke="#6ec370" stroke-width="4" stroke-linecap="round" stroke-linejoin="round"><path d="M91 1C72 20 62 45 64 66C66 95 74 115 80 125C100 110 118 85 117 60C116 38 104 15 91 1Z"/><path d="M1 65C20 64 40 70 52 80C66 92 76 110 78 128C70 134 58 135 48 132C30 126 10 110 5 95C2 85 0 72 1 65Z"/><path d="M113 93C125 80 145 72 160 71C170 70 178 70 183 71C180 85 172 100 160 108C140 122 110 128 82 124"/><path d="M80 125C82 145 76 165 65 180"/></g></svg><div class="c" style="left:164.2px;top:-7.8px;font-size:60px;line-height:60px;letter-spacing:28px;font-weight:700;">自然之路</div><div class="c" style="left:202.2px;top:58.6px;font-size:32px;line-height:32px;letter-spacing:15.4px;font-weight:700;font-family:'Liberation Sans',sans-serif;">NATUREWAY</div></div>
<div class="u" style="left:833.6px;top:541.9px"><svg class="a" style="left:0;top:0" width="200" height="190" viewBox="0 0 200 190"><g fill="none" stroke="#6ec370" stroke-width="4" stroke-linecap="round" stroke-linejoin="round"><path d="M91 1C72 20 62 45 64 66C66 95 74 115 80 125C100 110 118 85 117 60C116 38 104 15 91 1Z"/><path d="M1 65C20 64 40 70 52 80C66 92 76 110 78 128C70 134 58 135 48 132C30 126 10 110 5 95C2 85 0 72 1 65Z"/><path d="M113 93C125 80 145 72 160 71C170 70 178 70 183 71C180 85 172 100 160 108C140 122 110 128 82 124"/><path d="M80 125C82 145 76 165 65 180"/></g></svg><div class="c" style="left:164.2px;top:-7.8px;font-size:60px;line-height:60px;letter-spacing:28px;font-weight:700;">自然之路</div><div class="c" style="left:202.2px;top:58.6px;font-size:32px;line-height:32px;letter-spacing:15.4px;font-weight:700;font-family:'Liberation Sans',sans-serif;">NATUREWAY</div></div>
<div class="u" style="left:1441.2px;top:541.9px"><svg class="a" style="left:0;top:0" width="200" height="190" viewBox="0 0 200 190"><g fill="none" stroke="#6ec370" stroke-width="4" stroke-linecap="round" stroke-linejoin="round"><path d="M91 1C72 20 62 45 64 66C66 95 74 115 80 125C100 110 118 85 117 60C116 38 104 15 91 1Z"/><path d="M1 65C20 64 40 70 52 80C66 92 76 110 78 128C70 134 58 135 48 132C30 126 10 110 5 95C2 85 0 72 1 65Z"/><path d="M113 93C125 80 145 72 160 71C170 70 178 70 183 71C180 85 172 100 160 108C140 122 110 128 82 124"/><path d="M80 125C82 145 76 165 65 180"/></g></svg><div class="c" style="left:164.2px;top:-7.8px;font-size:60px;line-height:60px;letter-spacing:28px;font-weight:700;">自然之路</div><div class="c" style="left:202.2px;top:58.6px;font-size:32px;line-height:32px;letter-spacing:15.4px;font-weight:700;font-family:'Liberation Sans',sans-serif;">NATUREWAY</div></div>
<div class="u" style="left:2048.8px;top:541.9px"><svg class="a" style="left:0;top:0" width="200" height="190" viewBox="0 0 200 190"><g fill="none" stroke="#6ec370" stroke-width="4" stroke-linecap="round" stroke-linejoin="round"><path d="M91 1C72 20 62 45 64 66C66 95 74 115 80 125C100 110 118 85 117 60C116 38 104 15 91 1Z"/><path d="M1 65C20 64 40 70 52 80C66 92 76 110 78 128C70 134 58 135 48 132C30 126 10 110 5 95C2 85 0 72 1 65Z"/><path d="M113 93C125 80 145 72 160 71C170 70 178 70 183 71C180 85 172 100 160 108C140 122 110 128 82 124"/><path d="M80 125C82 145 76 165 65 180"/></g></svg><div class="c" style="left:164.2px;top:-7.8px;font-size:60px;line-height:60px;letter-spacing:28px;font-weight:700;">自然之路</div><div class="c" style="left:202.2px;top:58.6px;font-size:32px;line-height:32px;letter-spacing:15.4px;font-weight:700;font-family:'Liberation Sans',sans-serif;">NATUREWAY</div></div>
<div class="u" style="left:-381.6px;top:978.0px"><svg class="a" style="left:0;top:0" width="200" height="190" viewBox="0 0 200 190"><g fill="none" stroke="#6ec370" stroke-width="4" stroke-linecap="round" stroke-linejoin="round"><path d="M91 1C72 20 62 45 64 66C66 95 74 115 80 125C100 110 118 85 117 60C116 38 104 15 91 1Z"/><path d="M1 65C20 64 40 70 52 80C66 92 76 110 78 128C70 134 58 135 48 132C30 126 10 110 5 95C2 85 0 72 1 65Z"/><path d="M113 93C125 80 145 72 160 71C170 70 178 70 183 71C180 85 172 100 160 108C140 122 110 128 82 124"/><path d="M80 125C82 145 76 165 65 180"/></g></svg><div class="c" style="left:164.2px;top:-7.8px;font-size:60px;line-height:60px;letter-spacing:28px;font-weight:700;">自然之路</div><div class="c" style="left:202.2px;top:58.6px;font-size:32px;line-height:32px;letter-spacing:15.4px;font-weight:700;font-family:'Liberation Sans',sans-serif;">NATUREWAY</div></div>
<div class="u" style="left:226.0px;top:978.0px"><svg class="a" style="left:0;top:0" width="200" height="190" viewBox="0 0 200 190"><g fill="none" stroke="#6ec370" stroke-width="4" stroke-linecap="round" stroke-linejoin="round"><path d="M91 1C72 20 62 45 64 66C66 95 74 115 80 125C100 110 118 85 117 60C116 38 104 15 91 1Z"/><path d="M1 65C20 64 40 70 52 80C66 92 76 110 78 128C70 134 58 135 48 132C30 126 10 110 5 95C2 85 0 72 1 65Z"/><path d="M113 93C125 80 145 72 160 71C170 70 178 70 183 71C180 85 172 100 160 108C140 122 110 128 82 124"/><path d="M80 125C82 145 76 165 65 180"/></g></svg><div class="c" style="left:164.2px;top:-7.8px;font-size:60px;line-height:60px;letter-spacing:28px;font-weight:700;">自然之路</div><div class="c" style="left:202.2px;top:58.6px;font-size:32px;line-height:32px;letter-spacing:15.4px;font-weight:700;font-family:'Liberation Sans',sans-serif;">NATUREWAY</div></div>
<div class="u" style="left:833.6px;top:978.0px"><svg class="a" style="left:0;top:0" width="200" height="190" viewBox="0 0 200 190"><g fill="none" stroke="#6ec370" stroke-width="4" stroke-linecap="round" stroke-linejoin="round"><path d="M91 1C72 20 62 45 64 66C66 95 74 115 80 125C100 110 118 85 117 60C116 38 104 15 91 1Z"/><path d="M1 65C20 64 40 70 52 80C66 92 76 110 78 128C70 134 58 135 48 132C30 126 10 110 5 95C2 85 0 72 1 65Z"/><path d="M113 93C125 80 145 72 160 71C170 70 178 70 183 71C180 85 172 100 160 108C140 122 110 128 82 124"/><path d="M80 125C82 145 76 165 65 180"/></g></svg><div class="c" style="left:164.2px;top:-7.8px;font-size:60px;line-height:60px;letter-spacing:28px;font-weight:700;">自然之路</div><div class="c" style="left:202.2px;top:58.6px;font-size:32px;line-height:32px;letter-spacing:15.4px;font-weight:700;font-family:'Liberation Sans',sans-serif;">NATUREWAY</div></div>
<div class="u" style="left:1441.2px;top:978.0px"><svg class="a" style="left:0;top:0" width="200" height="190" viewBox="0 0 200 190"><g fill="none" stroke="#6ec370" stroke-width="4" stroke-linecap="round" stroke-linejoin="round"><path d="M91 1C72 20 62 45 64 66C66 95 74 115 80 125C100 110 118 85 117 60C116 38 104 15 91 1Z"/><path d="M1 65C20 64 40 70 52 80C66 92 76 110 78 128C70 134 58 135 48 132C30 126 10 110 5 95C2 85 0 72 1 65Z"/><path d="M113 93C125 80 145 72 160 71C170 70 178 70 183 71C180 85 172 100 160 108C140 122 110 128 82 124"/><path d="M80 125C82 145 76 165 65 180"/></g></svg><div class="c" style="left:164.2px;top:-7.8px;font-size:60px;line-height:60px;letter-spacing:28px;font-weight:700;">自然之路</div><div class="c" style="left:202.2px;top:58.6px;font-size:32px;line-height:32px;letter-spacing:15.4px;font-weight:700;font-family:'Liberation Sans',sans-serif;">NATUREWAY</div></div>
<div class="u" style="left:2048.8px;top:978.0px"><svg class="a" style="left:0;top:0" width="200" height="190" viewBox="0 0 200 190"><g fill="none" stroke="#6ec370" stroke-width="4" stroke-linecap="round" stroke-linejoin="round"><path d="M91 1C72 20 62 45 64 66C66 95 74 115 80 125C100 110 118 85 117 60C116 38 104 15 91 1Z"/><path d="M1 65C20 64 40 70 52 80C66 92 76 110 78 128C70 134 58 135 48 132C30 126 10 110 5 95C2 85 0 72 1 65Z"/><path d="M113 93C125 80 145 72 160 71C170 70 178 70 183 71C180 85 172 100 160 108C140 122 110 128 82 124"/><path d="M80 125C82 145 76 165 65 180"/></g></svg><div class="c" style="left:164.2px;top:-7.8px;font-size:60px;line-height:60px;letter-spacing:28px;font-weight:700;">自然之路</div><div class="c" style="left:202.2px;top:58.6px;font-size:32px;line-height:32px;letter-spacing:15.4px;font-weight:700;font-family:'Liberation Sans',sans-serif;">NATUREWAY</div></div>
<div class="u" style="left:-381.6px;top:1443.0px"><svg class="a" style="left:0;top:0" width="200" height="190" viewBox="0 0 200 190"><g fill="none" stroke="#6ec370" stroke-width="4" stroke-linecap="round" stroke-linejoin="round"><path d="M91 1C72 20 62 45 64 66C66 95 74 115 80 125C100 110 118 85 117 60C116 38 104 15 91 1Z"/><path d="M1 65C20 64 40 70 52 80C66 92 76 110 78 128C70 134 58 135 48 132C30 126 10 110 5 95C2 85 0 72 1 65Z"/><path d="M113 93C125 80 145 72 160 71C170 70 178 70 183 71C180 85 172 100 160 108C140 122 110 128 82 124"/><path d="M80 125C82 145 76 165 65 180"/></g></svg><div class="c" style="left:164.2px;top:-7.8px;font-size:60px;line-height:60px;letter-spacing:28px;font-weight:700;">自然之路</div><div class="c" style="left:202.2px;top:58.6px;font-size:32px;line-height:32px;letter-spacing:15.4px;font-weight:700;font-family:'Liberation Sans',sans-serif;">NATUREWAY</div></div>
<div class="u" style="left:226.0px;top:1443.0px"><svg class="a" style="left:0;top:0" width="200" height="190" viewBox="0 0 200 190"><g fill="none" stroke="#6ec370" stroke-width="4" stroke-linecap="round" stroke-linejoin="round"><path d="M91 1C72 20 62 45 64 66C66 95 74 115 80 125C100 110 118 85 117 60C116 38 104 15 91 1Z"/><path d="M1 65C20 64 40 70 52 80C66 92 76 110 78 128C70 134 58 135 48 132C30 126 10 110 5 95C2 85 0 72 1 65Z"/><path d="M113 93C125 80 145 72 160 71C170 70 178 70 183 71C180 85 172 100 160 108C140 122 110 128 82 124"/><path d="M80 125C82 145 76 165 65 180"/></g></svg><div class="c" style="left:164.2px;top:-7.8px;font-size:60px;line-height:60px;letter-spacing:28px;font-weight:700;">自然之路</div><div class="c" style="left:202.2px;top:58.6px;font-size:32px;line-height:32px;letter-spacing:15.4px;font-weight:700;font-family:'Liberation Sans',sans-serif;">NATUREWAY</div></div>
<div class="u" style="left:833.6px;top:1443.0px"><svg class="a" style="left:0;top:0" width="200" height="190" viewBox="0 0 200 190"><g fill="none" stroke="#6ec370" stroke-width="4" stroke-linecap="round" stroke-linejoin="round"><path d="M91 1C72 20 62 45 64 66C66 95 74 115 80 125C100 110 118 85 117 60C116 38 104 15 91 1Z"/><path d="M1 65C20 64 40 70 52 80C66 92 76 110 78 128C70 134 58 135 48 132C30 126 10 110 5 95C2 85 0 72 1 65Z"/><path d="M113 93C125 80 145 72 160 71C170 70 178 70 183 71C180 85 172 100 160 108C140 122 110 128 82 124"/><path d="M80 125C82 145 76 165 65 180"/></g></svg><div class="c" style="left:164.2px;top:-7.8px;font-size:60px;line-height:60px;letter-spacing:28px;font-weight:700;">自然之路</div><div class="c" style="left:202.2px;top:58.6px;font-size:32px;line-height:32px;letter-spacing:15.4px;font-weight:700;font-family:'Liberation Sans',sans-serif;">NATUREWAY</div></div>
<div class="u" style="left:1441.2px;top:1443.0px"><svg class="a" style="left:0;top:0" width="200" height="190" viewBox="0 0 200 190"><g fill="none" stroke="#6ec370" stroke-width="4" stroke-linecap="round" stroke-linejoin="round"><path d="M91 1C72 20 62 45 64 66C66 95 74 115 80 125C100 110 118 85 117 60C116 38 104 15 91 1Z"/><path d="M1 65C20 64 40 70 52 80C66 92 76 110 78 128C70 134 58 135 48 132C30 126 10 110 5 95C2 85 0 72 1 65Z"/><path d="M113 93C125 80 145 72 160 71C170 70 178 70 183 71C180 85 172 100 160 108C140 122 110 128 82 124"/><path d="M80 125C82 145 76 165 65 180"/></g></svg><div class="c" style="left:164.2px;top:-7.8px;font-size:60px;line-height:60px;letter-spacing:28px;font-weight:700;">自然之路</div><div class="c" style="left:202.2px;top:58.6px;font-size:32px;line-height:32px;letter-spacing:15.4px;font-weight:700;font-family:'Liberation Sans',sans-serif;">NATUREWAY</div></div>
<div class="u" style="left:2048.8px;top:1443.0px"><svg class="a" style="left:0;top:0" width="200" height="190" viewBox="0 0 200 190"><g fill="none" stroke="#6ec370" stroke-width="4" stroke-linecap="round" stroke-linejoin="round"><path d="M91 1C72 20 62 45 64 66C66 95 74 115 80 125C100 110 118 85 117 60C116 38 104 15 91 1Z"/><path d="M1 65C20 64 40 70 52 80C66 92 76 110 78 128C70 134 58 135 48 132C30 126 10 110 5 95C2 85 0 72 1 65Z"/><path d="M113 93C125 80 145 72 160 71C170 70 178 70 183 71C180 85 172 100 160 108C140 122 110 128 82 124"/><path d="M80 125C82 145 76 165 65 180"/></g></svg><div class="c" style="left:164.2px;top:-7.8px;font-size:60px;line-height:60px;letter-spacing:28px;font-weight:700;">自然之路</div><div class="c" style="left:202.2px;top:58.6px;font-size:32px;line-height:32px;letter-spacing:15.4px;font-weight:700;font-family:'Liberation Sans',sans-serif;">NATUREWAY</div></div>
<div class="u" style="left:-381.6px;top:1860.0px"><svg class="a" style="left:0;top:0" width="200" height="190" viewBox="0 0 200 190"><g fill="none" stroke="#6ec370" stroke-width="4" stroke-linecap="round" stroke-linejoin="round"><path d="M91 1C72 20 62 45 64 66C66 95 74 115 80 125C100 110 118 85 117 60C116 38 104 15 91 1Z"/><path d="M1 65C20 64 40 70 52 80C66 92 76 110 78 128C70 134 58 135 48 132C30 126 10 110 5 95C2 85 0 72 1 65Z"/><path d="M113 93C125 80 145 72 160 71C170 70 178 70 183 71C180 85 172 100 160 108C140 122 110 128 82 124"/><path d="M80 125C82 145 76 165 65 180"/></g></svg><div class="c" style="left:164.2px;top:-7.8px;font-size:60px;line-height:60px;letter-spacing:28px;font-weight:700;">自然之路</div><div class="c" style="left:202.2px;top:58.6px;font-size:32px;line-height:32px;letter-spacing:15.4px;font-weight:700;font-family:'Liberation Sans',sans-serif;">NATUREWAY</div></div>
<div class="u" style="left:226.0px;top:1860.0px"><svg class="a" style="left:0;top:0" width="200" height="190" viewBox="0 0 200 190"><g fill="none" stroke="#6ec370" stroke-width="4" stroke-linecap="round" stroke-linejoin="round"><path d="M91 1C72 20 62 45 64 66C66 95 74 115 80 125C100 110 118 85 117 60C116 38 104 15 91 1Z"/><path d="M1 65C20 64 40 70 52 80C66 92 76 110 78 128C70 134 58 135 48 132C30 126 10 110 5 95C2 85 0 72 1 65Z"/><path d="M113 93C125 80 145 72 160 71C170 70 178 70 183 71C180 85 172 100 160 108C140 122 110 128 82 124"/><path d="M80 125C82 145 76 165 65 180"/></g></svg><div class="c" style="left:164.2px;top:-7.8px;font-size:60px;line-height:60px;letter-spacing:28px;font-weight:700;">自然之路</div><div class="c" style="left:202.2px;top:58.6px;font-size:32px;line-height:32px;letter-spacing:15.4px;font-weight:700;font-family:'Liberation Sans',sans-serif;">NATUREWAY</div></div>
<div class="u" style="left:833.6px;top:1860.0px"><svg class="a" style="left:0;top:0" width="200" height="190" viewBox="0 0 200 190"><g fill="none" stroke="#6ec370" stroke-width="4" stroke-linecap="round" stroke-linejoin="round"><path d="M91 1C72 20 62 45 64 66C66 95 74 115 80 125C100 110 118 85 117 60C116 38 104 15 91 1Z"/><path d="M1 65C20 64 40 70 52 80C66 92 76 110 78 128C70 134 58 135 48 132C30 126 10 110 5 95C2 85 0 72 1 65Z"/><path d="M113 93C125 80 145 72 160 71C170 70 178 70 183 71C180 85 172 100 160 108C140 122 110 128 82 124"/><path d="M80 125C82 145 76 165 65 180"/></g></svg><div class="c" style="left:164.2px;top:-7.8px;font-size:60px;line-height:60px;letter-spacing:28px;font-weight:700;">自然之路</div><div class="c" style="left:202.2px;top:58.6px;font-size:32px;line-height:32px;letter-spacing:15.4px;font-weight:700;font-family:'Liberation Sans',sans-serif;">NATUREWAY</div></div>
<div class="u" style="left:1441.2px;top:1860.0px"><svg class="a" style="left:0;top:0" width="200" height="190" viewBox="0 0 200 190"><g fill="none" stroke="#6ec370" stroke-width="4" stroke-linecap="round" stroke-linejoin="round"><path d="M91 1C72 20 62 45 64 66C66 95 74 115 80 125C100 110 118 85 117 60C116 38 104 15 91 1Z"/><path d="M1 65C20 64 40 70 52 80C66 92 76 110 78 128C70 134 58 135 48 132C30 126 10 110 5 95C2 85 0 72 1 65Z"/><path d="M113 93C125 80 145 72 160 71C170 70 178 70 183 71C180 85 172 100 160 108C140 122 110 128 82 124"/><path d="M80 125C82 145 76 165 65 180"/></g></svg><div class="c" style="left:164.2px;top:-7.8px;font-size:60px;line-height:60px;letter-spacing:28px;font-weight:700;">自然之路</div><div class="c" style="left:202.2px;top:58.6px;font-size:32px;line-height:32px;letter-spacing:15.4px;font-weight:700;font-family:'Liberation Sans',sans-serif;">NATUREWAY</div></div>
<div class="u" style="left:2048.8px;top:1860.0px"><svg class="a" style="left:0;top:0" width="200" height="190" viewBox="0 0 200 190"><g fill="none" stroke="#6ec370" stroke-width="4" stroke-linecap="round" stroke-linejoin="round"><path d="M91 1C72 20 62 45 64 66C66 95 74 115 80 125C100 110 118 85 117 60C116 38 104 15 91 1Z"/><path d="M1 65C20 64 40 70 52 80C66 92 76 110 78 128C70 134 58 135 48 132C30 126 10 110 5 95C2 85 0 72 1 65Z"/><path d="M113 93C125 80 145 72 160 71C170 70 178 70 183 71C180 85 172 100 160 108C140 122 110 128 82 124"/><path d="M80 125C82 145 76 165 65 180"/></g></svg><div class="c" style="left:164.2px;top:-7.8px;font-size:60px;line-height:60px;letter-spacing:28px;font-weight:700;">自然之路</div><div class="c" style="left:202.2px;top:58.6px;font-size:32px;line-height:32px;letter-spacing:15.4px;font-weight:700;font-family:'Liberation Sans',sans-serif;">NATUREWAY</div></div>
<div class="u" style="left:-381.6px;top:2327.0px"><svg class="a" style="left:0;top:0" width="200" height="190" viewBox="0 0 200 190"><g fill="none" stroke="#6ec370" stroke-width="4" stroke-linecap="round" stroke-linejoin="round"><path d="M91 1C72 20 62 45 64 66C66 95 74 115 80 125C100 110 118 85 117 60C116 38 104 15 91 1Z"/><path d="M1 65C20 64 40 70 52 80C66 92 76 110 78 128C70 134 58 135 48 132C30 126 10 110 5 95C2 85 0 72 1 65Z"/><path d="M113 93C125 80 145 72 160 71C170 70 178 70 183 71C180 85 172 100 160 108C140 122 110 128 82 124"/><path d="M80 125C82 145 76 165 65 180"/></g></svg><div class="c" style="left:164.2px;top:-7.8px;font-size:60px;line-height:60px;letter-spacing:28px;font-weight:700;">自然之路</div><div class="c" style="left:202.2px;top:58.6px;font-size:32px;line-height:32px;letter-spacing:15.4px;font-weight:700;font-family:'Liberation Sans',sans-serif;">NATUREWAY</div></div>
<div class="u" style="left:226.0px;top:2327.0px"><svg class="a" style="left:0;top:0" width="200" height="190" viewBox="0 0 200 190"><g fill="none" stroke="#6ec370" stroke-width="4" stroke-linecap="round" stroke-linejoin="round"><path d="M91 1C72 20 62 45 64 66C66 95 74 115 80 125C100 110 118 85 117 60C116 38 104 15 91 1Z"/><path d="M1 65C20 64 40 70 52 80C66 92 76 110 78 128C70 134 58 135 48 132C30 126 10 110 5 95C2 85 0 72 1 65Z"/><path d="M113 93C125 80 145 72 160 71C170 70 178 70 183 71C180 85 172 100 160 108C140 122 110 128 82 124"/><path d="M80 125C82 145 76 165 65 180"/></g></svg><div class="c" style="left:164.2px;top:-7.8px;font-size:60px;line-height:60px;letter-spacing:28px;font-weight:700;">自然之路</div><div class="c" style="left:202.2px;top:58.6px;font-size:32px;line-height:32px;letter-spacing:15.4px;font-weight:700;font-family:'Liberation Sans',sans-serif;">NATUREWAY</div></div>
<div class="u" style="left:833.6px;top:2327.0px"><svg class="a" style="left:0;top:0" width="200" height="190" viewBox="0 0 200 190"><g fill="none" stroke="#6ec370" stroke-width="4" stroke-linecap="round" stroke-linejoin="round"><path d="M91 1C72 20 62 45 64 66C66 95 74 115 80 125C100 110 118 85 117 60C116 38 104 15 91 1Z"/><path d="M1 65C20 64 40 70 52 80C66 92 76 110 78 128C70 134 58 135 48 132C30 126 10 110 5 95C2 85 0 72 1 65Z"/><path d="M113 93C125 80 145 72 160 71C170 70 178 70 183 71C180 85 172 100 160 108C140 122 110 128 82 124"/><path d="M80 125C82 145 76 165 65 180"/></g></svg><div class="c" style="left:164.2px;top:-7.8px;font-size:60px;line-height:60px;letter-spacing:28px;font-weight:700;">自然之路</div><div class="c" style="left:202.2px;top:58.6px;font-size:32px;line-height:32px;letter-spacing:15.4px;font-weight:700;font-family:'Liberation Sans',sans-serif;">NATUREWAY</div></div>
<div class="u" style="left:1441.2px;top:2327.0px"><svg class="a" style="left:0;top:0" width="200" height="190" viewBox="0 0 200 190"><g fill="none" stroke="#6ec370" stroke-width="4" stroke-linecap="round" stroke-linejoin="round"><path d="M91 1C72 20 62 45 64 66C66 95 74 115 80 125C100 110 118 85 117 60C116 38 104 15 91 1Z"/><path d="M1 65C20 64 40 70 52 80C66 92 76 110 78 128C70 134 58 135 48 132C30 126 10 110 5 95C2 85 0 72 1 65Z"/><path d="M113 93C125 80 145 72 160 71C170 70 178 70 183 71C180 85 172 100 160 108C140 122 110 128 82 124"/><path d="M80 125C82 145 76 165 65 180"/></g></svg><div class="c" style="left:164.2px;top:-7.8px;font-size:60px;line-height:60px;letter-spacing:28px;font-weight:700;">自然之路</div><div class="c" style="left:202.2px;top:58.6px;font-size:32px;line-height:32px;letter-spacing:15.4px;font-weight:700;font-family:'Liberation Sans',sans-serif;">NATUREWAY</div></div>
<div class="u" style="left:2048.8px;top:2327.0px"><svg class="a" style="left:0;top:0" width="200" height="190" viewBox="0 0 200 190"><g fill="none" stroke="#6ec370" stroke-width="4" stroke-linecap="round" stroke-linejoin="round"><path d="M91 1C72 20 62 45 64 66C66 95 74 115 80 125C100 110 118 85 117 60C116 38 104 15 91 1Z"/><path d="M1 65C20 64 40 70 52 80C66 92 76 110 78 128C70 134 58 135 48 132C30 126 10 110 5 95C2 85 0 72 1 65Z"/><path d="M113 93C125 80 145 72 160 71C170 70 178 70 183 71C180 85 172 100 160 108C140 122 110 128 82 124"/><path d="M80 125C82 145 76 165 65 180"/></g></svg><div class="c" style="left:164.2px;top:-7.8px;font-size:60px;line-height:60px;letter-spacing:28px;font-weight:700;">自然之路</div><div class="c" style="left:202.2px;top:58.6px;font-size:32px;line-height:32px;letter-spacing:15.4px;font-weight:700;font-family:'Liberation Sans',sans-serif;">NATUREWAY</div></div>
<div class="u" style="left:-381.6px;top:2761.0px"><svg class="a" style="left:0;top:0" width="200" height="190" viewBox="0 0 200 190"><g fill="none" stroke="#6ec370" stroke-width="4" stroke-linecap="round" stroke-linejoin="round"><path d="M91 1C72 20 62 45 64 66C66 95 74 115 80 125C100 110 118 85 117 60C116 38 104 15 91 1Z"/><path d="M1 65C20 64 40 70 52 80C66 92 76 110 78 128C70 134 58 135 48 132C30 126 10 110 5 95C2 85 0 72 1 65Z"/><path d="M113 93C125 80 145 72 160 71C170 70 178 70 183 71C180 85 172 100 160 108C140 122 110 128 82 124"/><path d="M80 125C82 145 76 165 65 180"/></g></svg><div class="c" style="left:164.2px;top:-7.8px;font-size:60px;line-height:60px;letter-spacing:28px;font-weight:700;">自然之路</div><div class="c" style="left:202.2px;top:58.6px;font-size:32px;line-height:32px;letter-spacing:15.4px;font-weight:700;font-family:'Liberation Sans',sans-serif;">NATUREWAY</div></div>
<div class="u" style="left:226.0px;top:2761.0px"><svg class="a" style="left:0;top:0" width="200" height="190" viewBox="0 0 200 190"><g fill="none" stroke="#6ec370" stroke-width="4" stroke-linecap="round" stroke-linejoin="round"><path d="M91 1C72 20 62 45 64 66C66 95 74 115 80 125C100 110 118 85 117 60C116 38 104 15 91 1Z"/><path d="M1 65C20 64 40 70 52 80C66 92 76 110 78 128C70 134 58 135 48 132C30 126 10 110 5 95C2 85 0 72 1 65Z"/><path d="M113 93C125 80 145 72 160 71C170 70 178 70 183 71C180 85 172 100 160 108C140 122 110 128 82 124"/><path d="M80 125C82 145 76 165 65 180"/></g></svg><div class="c" style="left:164.2px;top:-7.8px;font-size:60px;line-height:60px;letter-spacing:28px;font-weight:700;">自然之路</div><div class="c" style="left:202.2px;top:58.6px;font-size:32px;line-height:32px;letter-spacing:15.4px;font-weight:700;font-family:'Liberation Sans',sans-serif;">NATUREWAY</div></div>
<div class="u" style="left:833.6px;top:2761.0px"><svg class="a" style="left:0;top:0" width="200" height="190" viewBox="0 0 200 190"><g fill="none" stroke="#6ec370" stroke-width="4" stroke-linecap="round" stroke-linejoin="round"><path d="M91 1C72 20 62 45 64 66C66 95 74 115 80 125C100 110 118 85 117 60C116 38 104 15 91 1Z"/><path d="M1 65C20 64 40 70 52 80C66 92 76 110 78 128C70 134 58 135 48 132C30 126 10 110 5 95C2 85 0 72 1 65Z"/><path d="M113 93C125 80 145 72 160 71C170 70 178 70 183 71C180 85 172 100 160 108C140 122 110 128 82 124"/><path d="M80 125C82 145 76 165 65 180"/></g></svg><div class="c" style="left:164.2px;top:-7.8px;font-size:60px;line-height:60px;letter-spacing:28px;font-weight:700;">自然之路</div><div class="c" style="left:202.2px;top:58.6px;font-size:32px;line-height:32px;letter-spacing:15.4px;font-weight:700;font-family:'Liberation Sans',sans-serif;">NATUREWAY</div></div>
<div class="u" style="left:1441.2px;top:2761.0px"><svg class="a" style="left:0;top:0" width="200" height="190" viewBox="0 0 200 190"><g fill="none" stroke="#6ec370" stroke-width="4" stroke-linecap="round" stroke-linejoin="round"><path d="M91 1C72 20 62 45 64 66C66 95 74 115 80 125C100 110 118 85 117 60C116 38 104 15 91 1Z"/><path d="M1 65C20 64 40 70 52 80C66 92 76 110 78 128C70 134 58 135 48 132C30 126 10 110 5 95C2 85 0 72 1 65Z"/><path d="M113 93C125 80 145 72 160 71C170 70 178 70 183 71C180 85 172 100 160 108C140 122 110 128 82 124"/><path d="M80 125C82 145 76 165 65 180"/></g></svg><div class="c" style="left:164.2px;top:-7.8px;font-size:60px;line-height:60px;letter-spacing:28px;font-weight:700;">自然之路</div><div class="c" style="left:202.2px;top:58.6px;font-size:32px;line-height:32px;letter-spacing:15.4px;font-weight:700;font-family:'Liberation Sans',sans-serif;">NATUREWAY</div></div>
<div class="u" style="left:2048.8px;top:2761.0px"><svg class="a" style="left:0;top:0" width="200" height="190" viewBox="0 0 200 190"><g fill="none" stroke="#6ec370" stroke-width="4" stroke-linecap="round" stroke-linejoin="round"><path d="M91 1C72 20 62 45 64 66C66 95 74 115 80 125C100 110 118 85 117 60C116 38 104 15 91 1Z"/><path d="M1 65C20 64 40 70 52 80C66 92 76 110 78 128C70 134 58 135 48 132C30 126 10 110 5 95C2 85 0 72 1 65Z"/><path d="M113 93C125 80 145 72 160 71C170 70 178 70 183 71C180 85 172 100 160 108C140 122 110 128 82 124"/><path d="M80 125C82 145 76 165 65 180"/></g></svg><div class="c" style="left:164.2px;top:-7.8px;font-size:60px;line-height:60px;letter-spacing:28px;font-weight:700;">自然之路</div><div class="c" style="left:202.2px;top:58.6px;font-size:32px;line-height:32px;letter-spacing:15.4px;font-weight:700;font-family:'Liberation Sans',sans-serif;">NATUREWAY</div></div>
<div class="u" style="left:-381.6px;top:3211.0px"><svg class="a" style="left:0;top:0" width="200" height="190" viewBox="0 0 200 190"><g fill="none" stroke="#6ec370" stroke-width="4" stroke-linecap="round" stroke-linejoin="round"><path d="M91 1C72 20 62 45 64 66C66 95 74 115 80 125C100 110 118 85 117 60C116 38 104 15 91 1Z"/><path d="M1 65C20 64 40 70 52 80C66 92 76 110 78 128C70 134 58 135 48 132C30 126 10 110 5 95C2 85 0 72 1 65Z"/><path d="M113 93C125 80 145 72 160 71C170 70 178 70 183 71C180 85 172 100 160 108C140 122 110 128 82 124"/><path d="M80 125C82 145 76 165 65 180"/></g></svg><div class="c" style="left:164.2px;top:-7.8px;font-size:60px;line-height:60px;letter-spacing:28px;font-weight:700;">自然之路</div><div class="c" style="left:202.2px;top:58.6px;font-size:32px;line-height:32px;letter-spacing:15.4px;font-weight:700;font-family:'Liberation Sans',sans-serif;">NATUREWAY</div></div>
<div class="u" style="left:226.0px;top:3211.0px"><svg class="a" style="left:0;top:0" width="200" height="190" viewBox="0 0 200 190"><g fill="none" stroke="#6ec370" stroke-width="4" stroke-linecap="round" stroke-linejoin="round"><path d="M91 1C72 20 62 45 64 66C66 95 74 115 80 125C100 110 118 85 117 60C116 38 104 15 91 1Z"/><path d="M1 65C20 64 40 70 52 80C66 92 76 110 78 128C70 134 58 135 48 132C30 126 10 110 5 95C2 85 0 72 1 65Z"/><path d="M113 93C125 80 145 72 160 71C170 70 178 70 183 71C180 85 172 100 160 108C140 122 110 128 82 124"/><path d="M80 125C82 145 76 165 65 180"/></g></svg><div class="c" style="left:164.2px;top:-7.8px;font-size:60px;line-height:60px;letter-spacing:28px;font-weight:700;">自然之路</div><div class="c" style="left:202.2px;top:58.6px;font-size:32px;line-height:32px;letter-spacing:15.4px;font-weight:700;font-family:'Liberation Sans',sans-serif;">NATUREWAY</div></div>
<div class="u" style="left:833.6px;top:3211.0px"><svg class="a" style="left:0;top:0" width="200" height="190" viewBox="0 0 200 190"><g fill="none" stroke="#6ec370" stroke-width="4" stroke-linecap="round" stroke-linejoin="round"><path d="M91 1C72 20 62 45 64 66C66 95 74 115 80 125C100 110 118 85 117 60C116 38 104 15 91 1Z"/><path d="M1 65C20 64 40 70 52 80C66 92 76 110 78 128C70 134 58 135 48 132C30 126 10 110 5 95C2 85 0 72 1 65Z"/><path d="M113 93C125 80 145 72 160 71C170 70 178 70 183 71C180 85 172 100 160 108C140 122 110 128 82 124"/><path d="M80 125C82 145 76 165 65 180"/></g></svg><div class="c" style="left:164.2px;top:-7.8px;font-size:60px;line-height:60px;letter-spacing:28px;font-weight:700;">自然之路</div><div class="c" style="left:202.2px;top:58.6px;font-size:32px;line-height:32px;letter-spacing:15.4px;font-weight:700;font-family:'Liberation Sans',sans-serif;">NATUREWAY</div></div>
<div class="u" style="left:1441.2px;top:3211.0px"><svg class="a" style="left:0;top:0" width="200" height="190" viewBox="0 0 200 190"><g fill="none" stroke="#6ec370" stroke-width="4" stroke-linecap="round" stroke-linejoin="round"><path d="M91 1C72 20 62 45 64 66C66 95 74 115 80 125C100 110 118 85 117 60C116 38 104 15 91 1Z"/><path d="M1 65C20 64 40 70 52 80C66 92 76 110 78 128C70 134 58 135 48 132C30 126 10 110 5 95C2 85 0 72 1 65Z"/><path d="M113 93C125 80 145 72 160 71C170 70 178 70 183 71C180 85 172 100 160 108C140 122 110 128 82 124"/><path d="M80 125C82 145 76 165 65 180"/></g></svg><div class="c" style="left:164.2px;top:-7.8px;font-size:60px;line-height:60px;letter-spacing:28px;font-weight:700;">自然之路</div><div class="c" style="left:202.2px;top:58.6px;font-size:32px;line-height:32px;letter-spacing:15.4px;font-weight:700;font-family:'Liberation Sans',sans-serif;">NATUREWAY</div></div>
<div class="u" style="left:2048.8px;top:3211.0px"><svg class="a" style="left:0;top:0" width="200" height="190" viewBox="0 0 200 190"><g fill="none" stroke="#6ec370" stroke-width="4" stroke-linecap="round" stroke-linejoin="round"><path d="M91 1C72 20 62 45 64 66C66 95 74 115 80 125C100 110 118 85 117 60C116 38 104 15 91 1Z"/><path d="M1 65C20 64 40 70 52 80C66 92 76 110 78 128C70 134 58 135 48 132C30 126 10 110 5 95C2 85 0 72 1 65Z"/><path d="M113 93C125 80 145 72 160 71C170 70 178 70 183 71C180 85 172 100 160 108C140 122 110 128 82 124"/><path d="M80 125C82 145 76 165 65 180"/></g></svg><div class="c" style="left:164.2px;top:-7.8px;font-size:60px;line-height:60px;letter-spacing:28px;font-weight:700;">自然之路</div><div class="c" style="left:202.2px;top:58.6px;font-size:32px;line-height:32px;letter-spacing:15.4px;font-weight:700;font-family:'Liberation Sans',sans-serif;">NATUREWAY</div></div>
</div>
</body></html>
